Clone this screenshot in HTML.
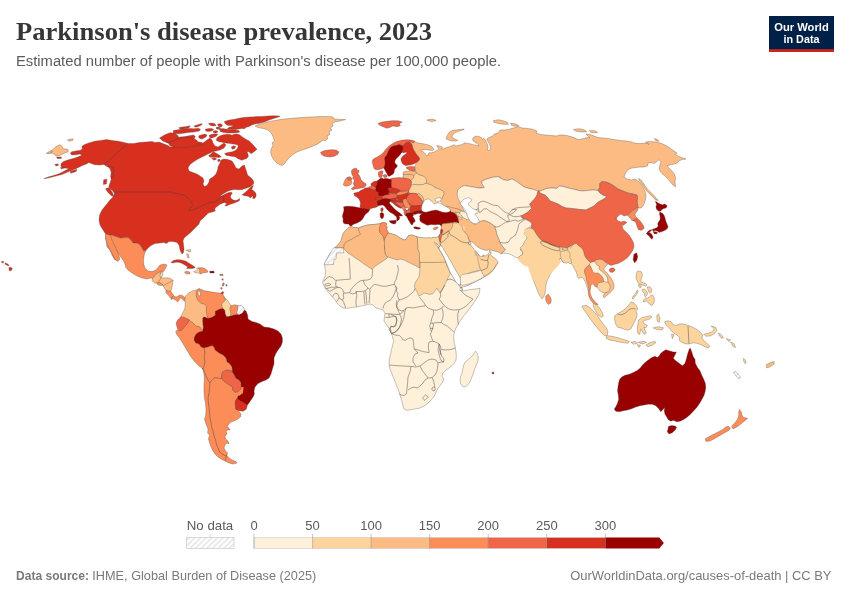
<!DOCTYPE html>
<html lang="en">
<head>
<meta charset="utf-8">
<title>Parkinson's disease prevalence, 2023</title>
<style>
html,body{margin:0;padding:0;background:#fff;}
body{width:850px;height:600px;overflow:hidden;font-family:"Liberation Sans",sans-serif;}
svg{display:block;}
.title{font-family:"Liberation Serif",serif;font-weight:700;font-size:25px;fill:#363636;}
.sub{font-family:"Liberation Sans",sans-serif;font-size:14px;fill:#5b5b5b;}
.lg{font-family:"Liberation Sans",sans-serif;font-size:13px;fill:#5b5b5b;}
.ft{font-family:"Liberation Sans",sans-serif;font-size:13px;fill:#7a7a7a;}
.ftb{font-weight:700;}
.b{fill:none;stroke-width:0.55;stroke-opacity:0.85;}
.nb{stroke:none;}
.logo{font-family:"Liberation Sans",sans-serif;font-weight:700;font-size:11.6px;fill:#fff;}
</style>
</head>
<body>
<svg width="850" height="600" viewBox="0 0 850 600">
<rect width="850" height="600" fill="#ffffff"/>
<defs>
<pattern id="hatch" patternUnits="userSpaceOnUse" width="4" height="4" patternTransform="rotate(45)">
<rect width="4" height="4" fill="#fff"/>
<line x1="2" y1="0" x2="2" y2="4" stroke="#d9d9d9" stroke-width="1.1"/>
</pattern>
</defs>
<g id="header">
<text x="16" y="39.5" class="title" textLength="416" lengthAdjust="spacingAndGlyphs">Parkinson's disease prevalence, 2023</text>
<text x="16" y="66.3" class="sub" textLength="485" lengthAdjust="spacingAndGlyphs">Estimated number of people with Parkinson's disease per 100,000 people.</text>
</g>
<g id="logo">
<rect x="769" y="16" width="65" height="36" fill="#002147"/>
<rect x="769" y="49.2" width="65" height="2.8" fill="#ce261e"/>
<text x="801.5" y="30.6" text-anchor="middle" class="logo" textLength="54.5" lengthAdjust="spacingAndGlyphs">Our World</text>
<text x="801.5" y="42.6" text-anchor="middle" class="logo" textLength="36" lengthAdjust="spacingAndGlyphs">in Data</text>
</g>
<g id="map">
<g stroke="#444" stroke-width="0.7" stroke-opacity="0.45" stroke-linejoin="round">
<path d="M47.9 153.3L52.9 153.3L55.9 155.9L60.1 155.3L64.1 153.3L68.3 151.8L67.9 149.3L63.2 148.7L62.2 146.8L60.1 144.6L55.8 146.7L51.8 150.4L47.8 153.0Z" fill="#fdbb84"/>
<path d="M67.4 139.8L68.9 141.3L73.2 140.2L72.6 138.7L67.4 139.8Z" fill="#fdbb84"/>
<path d="M56.6 156.9L57.2 158.5L61.3 158.5L61.3 156.9Z" fill="#d7301f"/>
<path d="M44.1 178.5L48.8 176.8L53.5 175.6L58.2 174.1L61.8 172.4L65.3 170.6L68.8 168.8L66.5 168.2L62.9 167.9L60.8 165.9L61.2 163.5L63.5 161.5L67.6 160.0L72.4 158.8L77.1 157.3L81.8 155.3L80.0 154.1L75.9 154.7L71.8 154.9L70.2 153.3L71.8 151.8L75.9 150.9L80.6 150.2L82.4 148.8L81.8 146.5L84.1 144.7L88.8 142.9L94.7 141.2L100.6 140.4L106.5 139.6L112.4 140.6L118.2 141.2L124.1 142.4L128.0 143.5L134.0 143.6L139.0 142.6L146.0 142.0L152.0 141.4L155.0 142.6L159.0 142.0L163.0 143.6L168.0 145.6L170.0 147.0L174.0 147.0L182.0 147.0L190.0 146.4L196.0 145.6L200.0 144.4L203.0 143.0L207.0 140.0L210.0 138.0L212.0 140.0L213.0 143.0L215.0 146.0L218.0 147.0L221.0 145.0L224.0 143.0L226.0 145.0L224.0 148.0L220.0 150.0L216.0 151.0L213.0 151.6L210.0 153.0L206.0 155.0L202.0 157.0L198.0 159.0L194.0 161.6L190.0 164.4L188.0 168.0L189.0 171.0L193.0 172.4L197.0 174.0L200.0 176.0L203.0 178.0L204.0 181.0L203.0 184.0L204.4 186.4L207.0 185.6L209.0 182.0L209.6 179.0L213.0 177.0L216.0 174.0L217.6 170.0L218.0 167.0L220.0 163.0L221.0 160.0L224.0 159.0L228.0 159.6L232.0 161.0L234.0 164.0L236.0 168.0L239.0 169.0L242.0 166.0L244.4 165.0L246.0 170.0L246.0 170.0L246.8 172.5L247.6 174.9L249.3 176.6L251.4 178.2L253.0 179.9L253.8 181.9L253.4 184.0L251.8 185.6L249.7 186.9L247.6 187.7L245.2 188.5L242.7 189.4L240.2 189.8L237.8 189.8L235.3 189.6L232.8 189.8L230.4 190.2L228.3 191.0L226.2 192.1L224.2 193.2L222.1 194.5L220.5 195.9L219.2 197.3L221.7 195.9L223.8 194.7L226.2 193.5L228.7 192.6L231.2 192.2L232.4 193.1L231.2 194.7L230.4 196.4L230.8 198.0L232.0 199.2L233.6 200.1L235.7 200.5L237.8 199.8L239.4 198.4L239.8 200.1L238.6 201.3L236.5 202.1L234.5 202.9L232.0 203.8L229.5 204.6L227.5 205.4L225.8 206.2L225.0 205.4L226.2 204.2L227.9 202.9L226.2 203.4L224.6 202.5L222.9 202.9L221.3 203.8L219.6 204.6L218.0 205.8L216.4 207.1L215.1 208.3L214.7 209.9L215.5 210.8L213.9 211.6L212.2 212.0L210.6 212.4L208.9 212.8L207.7 213.6L206.5 214.9L205.2 216.1L204.0 217.4L202.8 218.6L200.0 221.0L199.0 224.0L196.0 227.0L193.0 230.0L190.0 233.0L187.0 235.6L184.0 238.0L183.0 241.0L183.6 245.0L184.0 249.0L183.6 252.4L182.0 254.0L180.4 251.0L179.6 248.0L179.0 245.0L177.0 242.4L173.0 241.4L169.0 241.6L166.4 243.6L164.0 242.4L160.0 243.0L155.0 243.6L151.0 245.6L148.0 248.0L146.0 250.4L143.6 251.0L142.0 248.0L140.0 245.0L137.0 243.0L133.0 243.0L131.0 240.0L128.0 237.6L120.0 238.0L113.0 235.6L106.0 234.4L103.0 230.0L100.0 225.0L99.0 220.0L99.6 215.0L102.0 210.0L106.0 205.0L110.0 200.0L114.0 196.0L115.0 192.0L114.4 196.4L115.0 192.0L114.1 192.9L112.4 190.6L110.0 188.8L108.8 186.5L110.0 182.9L111.2 179.4L110.6 176.5L111.2 172.4L110.0 168.8L107.6 166.5L104.1 164.4L99.4 165.1L94.7 164.7L91.2 163.5L88.8 162.4L86.5 163.9L82.9 165.3L79.4 167.1L75.9 168.8L71.2 170.6L66.5 172.6L61.8 174.5L55.9 176.1L50.0 177.6L44.1 178.8Z" fill="#d7301f"/>
<path d="M105.5 188.8L107.8 192.2L110.8 195.2L113.9 196.9L114.1 196.8L112.7 192.9L109.1 187.6Z" fill="#d7301f"/>
<path d="M103.7 179.7L103.3 184.4L106.3 183.9L107.0 179.2Z" fill="#d7301f"/>
<path d="M242.1 194.8L244.3 195.7L245.9 195.8L247.6 196.2L249.1 196.6L250.0 198.0L251.6 197.0L252.3 195.9L253.1 196.5L252.6 198.2L254.3 198.8L255.8 196.9L256.2 194.7L255.7 192.9L254.4 191.6L253.2 190.4L251.7 189.3L252.4 187.8L253.5 185.7L253.3 185.6L251.2 186.6L249.5 188.3L247.8 190.0L246.2 191.6L244.2 193.2L242.1 194.8Z" fill="#d7301f"/>
<path d="M224.1 121.7L225.2 123.5L226.7 125.0L229.2 125.5L232.0 125.5L233.2 126.1L231.5 126.8L229.1 127.3L227.2 128.9L227.3 129.0L230.1 129.4L233.0 129.7L235.9 129.4L238.7 129.0L241.5 128.5L244.4 128.8L246.3 127.3L249.1 126.4L251.9 125.0L254.7 124.1L258.5 123.4L262.3 122.5L265.1 121.7L269.8 119.8L275.4 117.9L279.7 116.4L279.7 116.0L273.5 115.8L267.8 116.0L262.2 116.4L256.5 116.6L250.9 116.9L246.1 117.3L241.4 117.8L237.6 118.5L234.8 119.2L231.1 119.7L227.3 120.4Z" fill="#d7301f"/>
<path d="M219.4 129.2L220.4 131.5L222.6 132.2L225.4 132.8L229.2 133.0L233.0 133.0L236.8 132.8L239.5 132.2L238.9 130.6L235.8 130.1L232.1 130.1L228.3 129.6L225.5 129.1L222.6 128.4Z" fill="#d7301f"/>
<path d="M208.4 123.6L210.3 125.5L213.2 126.0L216.1 125.4L214.8 123.8L211.8 123.0L208.4 123.6Z" fill="#d7301f"/>
<path d="M217.5 124.0L218.7 126.4L221.4 126.9L222.6 125.1L220.4 123.7Z" fill="#d7301f"/>
<path d="M205.3 129.2L205.9 131.1L208.5 131.6L211.5 131.1L213.8 129.7L211.9 128.4L208.5 128.6Z" fill="#d7301f"/>
<path d="M213.3 131.1L213.7 132.8L216.1 133.0L218.0 131.8L216.1 130.5Z" fill="#d7301f"/>
<path d="M216.2 127.3L216.6 129.0L218.5 129.2L220.9 128.3L220.9 128.2L219.0 126.9Z" fill="#d7301f"/>
<path d="M178.7 128.0L181.2 129.4L185.0 128.8L187.0 128.5L189.0 127.8L190.2 125.8L190.2 125.7L187.3 126.3L185.0 126.8L182.1 126.9L178.8 127.8Z" fill="#d7301f"/>
<path d="M193.8 126.1L195.8 127.2L198.3 126.4L200.7 125.6L202.3 123.9L202.2 123.7L200.0 123.9L197.1 124.9L193.8 126.0Z" fill="#d7301f"/>
<path d="M173.4 130.6L173.4 133.5L179.4 133.8L185.0 133.0L187.9 132.5L190.7 132.3L193.5 132.1L196.3 131.6L199.3 131.1L200.5 129.3L198.2 128.2L196.3 128.5L193.5 128.8L190.7 128.5L187.8 128.6L185.0 129.1L179.3 129.6Z" fill="#d7301f"/>
<path d="M198.8 135.8L198.8 137.3L199.9 138.6L202.0 139.1L204.0 138.1L205.9 136.9L207.1 134.9L204.8 134.1L201.9 134.8Z" fill="#d7301f"/>
<path d="M209.1 135.3L209.7 137.4L211.3 138.2L213.8 137.2L216.2 136.3L218.0 134.2L218.0 134.2L215.1 133.8L212.2 134.3Z" fill="#d7301f"/>
<path d="M163.7 140.1L166.0 142.4L169.9 143.8L177.5 144.8L185.0 144.8L187.9 144.3L190.7 144.1L193.6 143.8L195.9 142.7L194.2 141.0L193.0 139.8L194.2 138.5L195.3 136.4L193.6 135.0L190.6 135.4L187.8 136.0L185.0 136.6L177.4 137.3L170.8 138.1Z" fill="#d7301f"/>
<path d="M196.8 142.9L198.0 145.0L200.6 145.2L202.8 144.4L202.2 142.6L199.6 142.0Z" fill="#d7301f"/>
<path d="M216.2 139.2L216.6 140.4L218.3 141.5L220.7 141.9L223.1 142.4L225.4 142.9L227.8 143.2L230.1 143.4L234.8 144.3L237.1 144.7L238.3 146.0L237.9 147.6L236.6 149.4L234.7 150.8L232.4 151.7L229.7 152.2L226.8 152.7L224.5 153.8L226.3 155.4L228.7 155.8L231.1 156.3L233.4 156.5L235.7 157.0L237.5 158.4L239.5 159.3L241.9 160.3L244.4 159.3L246.8 158.4L248.4 156.3L247.9 153.8L247.0 152.1L248.5 151.4L249.7 152.5L251.3 153.8L255.3 150.8L257.0 149.2L254.9 147.1L253.0 144.7L249.2 140.9L246.3 139.5L244.0 138.1L241.7 136.4L239.7 134.8L236.8 134.1L233.9 134.3L232.0 135.2L230.2 134.5L226.9 134.3L223.5 134.8L220.2 135.7L217.7 137.2Z" fill="#d7301f"/>
<path d="M231.2 147.2L232.4 149.3L234.6 148.5L235.8 146.5L233.4 145.7Z" fill="#d7301f"/>
<path d="M208.6 155.7L209.8 157.0L211.8 157.3L214.2 157.0L216.5 157.3L218.9 157.5L221.3 156.9L221.3 156.9L220.0 155.5L215.3 152.7L213.2 151.6L211.2 153.7Z" fill="#d7301f"/>
<path d="M211.7 158.6L214.2 160.2L216.7 158.9L214.7 157.6L211.7 158.4Z" fill="#d7301f"/>
<path d="M217.6 159.8L218.2 161.8L220.2 161.1L219.5 159.1Z" fill="#d7301f"/>
<path d="M128.0 143.5L104.1 164.4L106.5 166.5L110.0 166.2L112.9 167.6L113.5 171.2L112.4 173.5L114.1 175.3L112.9 177.6L111.2 177.1" class="b"/>
<path d="M115.0 192.0L171.0 192.0L174.0 193.0L179.0 194.0L184.0 195.0L188.0 198.0L191.6 202.0L192.4 205.6L190.0 209.0L188.0 211.0" class="b"/>
<path d="M189.2 210.5L192.5 209.9L194.9 209.1L197.4 207.9L199.9 206.6L202.4 205.8L204.8 204.6L207.3 202.9L209.8 202.5L212.2 202.3L214.7 202.1L216.8 201.3L218.0 199.6L219.2 198.0L220.9 196.8L222.5 196.2L223.8 197.2L223.9 198.8L223.4 200.5L223.8 202.1L222.9 202.9" class="b"/>
<path d="M255.0 126.0L260.0 124.0L266.0 122.4L272.0 121.0L280.0 119.6L290.0 118.4L300.0 117.6L310.0 117.0L320.0 116.6L328.0 116.4L333.0 117.0L334.0 119.0L340.0 119.4L345.6 119.6L340.0 121.0L335.0 122.0L332.0 123.6L333.0 126.0L330.4 128.0L332.0 130.0L329.0 132.0L330.0 134.4L327.0 136.0L327.6 139.0L325.0 141.0L323.0 140.0L320.0 142.4L317.0 144.4L312.0 146.4L307.0 148.4L302.0 150.0L297.0 152.0L293.0 154.4L289.0 158.0L286.4 161.0L284.4 164.0L282.0 165.6L279.0 164.4L276.0 162.4L273.6 159.6L271.6 156.0L270.6 152.4L271.0 149.0L273.0 145.6L272.0 143.0L274.4 141.0L273.6 138.0L272.0 134.4L270.0 131.6L267.0 129.6L263.0 128.4L258.0 127.6Z" fill="#fdbb84"/>
<path d="M320.6 152.2L321.3 154.2L323.5 155.9L327.0 156.7L331.0 156.9L335.1 155.9L337.8 154.2L339.0 151.9L336.1 150.1L332.0 149.7L328.0 150.1L323.9 150.7Z" fill="#ef6548"/>
<path d="M377.8 123.5L379.8 125.3L382.9 126.7L387.0 128.3L390.1 127.3L393.0 125.9L397.0 126.7L400.4 125.8L399.4 123.7L402.2 122.0L402.2 121.9L398.0 120.7L392.0 120.7L387.0 121.3L381.9 122.1L377.8 123.5Z" fill="#ef6548"/>
<path d="M106.0 234.4L113.0 235.6L120.0 238.0L128.0 237.6L131.0 240.0L133.0 243.0L137.0 243.0L140.0 245.0L142.0 248.0L143.6 251.0L146.0 250.4L144.4 254.0L143.6 259.0L143.6 264.0L145.0 268.0L148.0 271.0L152.0 271.6L156.0 270.0L158.4 267.0L160.0 265.0L164.0 264.0L167.0 265.0L165.6 268.0L164.0 271.0L162.0 272.0L159.0 272.0L157.0 274.0L156.0 276.4L154.0 279.0L151.0 278.0L147.0 279.0L142.0 278.0L137.0 276.0L132.0 273.0L128.0 270.0L125.6 267.0L125.0 264.0L123.0 260.0L120.0 256.0L117.0 251.0L114.0 246.0L112.0 242.0L110.0 239.0L109.6 242.0L112.0 247.0L114.0 252.0L115.6 257.0L116.4 260.0L114.4 259.6L112.0 255.0L110.0 250.0L107.0 247.0L106.4 242.0L105.6 238.0Z" fill="#fc8d59"/>
<path d="M155.7 274.5L154.5 276.3L152.7 278.1L152.0 280.4L153.3 282.0L155.2 283.2L157.8 283.2L159.1 282.0L161.5 278.3L160.9 277.0L160.5 275.3L161.6 272.6L159.4 272.6L157.5 273.3Z" fill="#fdbb84"/>
<path d="M160.9 272.8L159.9 275.3L160.4 277.5L162.0 276.7L162.9 274.2L162.6 271.2L162.5 271.2Z" fill="#fdd49e"/>
<path d="M161.0 277.9L159.7 279.8L158.4 282.5L160.4 283.8L162.2 284.9L163.5 286.2L164.9 285.6L166.6 284.4L169.0 283.2L171.3 282.0L173.2 280.6L170.7 278.5L167.1 277.7L163.5 277.9Z" fill="#fdbb84"/>
<path d="M157.3 282.8L157.3 284.3L159.3 285.3L161.2 285.6L162.9 284.7L160.8 283.3L158.8 282.0Z" fill="#fc8d59"/>
<path d="M172.9 280.0L171.0 281.5L168.7 282.7L166.3 283.9L164.6 285.0L163.1 285.7L163.9 287.2L165.0 289.0L166.3 290.8L168.2 291.7L170.6 291.5L171.5 289.5L172.1 286.5L172.6 283.6L173.1 280.1Z" fill="#fdbb84"/>
<path d="M166.2 290.2L165.8 292.7L167.4 294.3L169.2 296.1L170.1 297.8L171.9 299.3L172.6 297.3L173.9 296.6L173.2 294.6L171.8 292.8L170.5 290.9L168.3 291.1Z" fill="#fc8d59"/>
<path d="M173.5 296.1L172.1 296.8L171.3 299.2L171.4 299.3L172.9 298.8L174.6 299.4L176.0 300.2L177.4 302.0L178.8 300.8L179.7 299.0L180.7 298.0L182.1 298.5L183.1 300.2L184.7 301.0L185.3 298.8L184.4 296.9L182.5 295.6L180.6 295.0L178.7 295.6L177.0 296.8L175.3 296.8Z" fill="#fc8d59"/>
<path d="M171.0 262.5L172.9 263.0L175.3 262.3L178.2 262.3L181.1 263.0L184.0 264.4L186.3 266.1L187.8 267.1L186.5 268.4L186.5 268.5L192.4 268.5L195.2 267.8L194.3 266.5L191.9 265.0L189.0 263.3L186.6 261.5L183.6 260.5L180.0 259.7L176.4 259.7L173.4 260.6L170.9 262.4Z" fill="#d7301f"/>
<path d="M184.5 271.9L185.5 273.6L187.6 274.1L190.0 273.8L189.7 272.1L187.1 271.2Z" fill="#fc8d59"/>
<path d="M193.5 271.4L195.2 272.9L197.6 272.9L200.6 273.7L200.3 271.2L200.3 268.6L198.9 267.9L196.6 268.4L197.3 269.9L196.3 270.9L193.6 271.3Z" fill="#fdd49e"/>
<path d="M198.2 268.3L199.7 269.0L199.7 271.2L200.0 273.5L201.2 273.9L203.0 272.7L205.3 272.7L208.1 272.0L207.3 270.4L204.8 268.6L201.8 267.6L198.3 268.0Z" fill="#fc8d59"/>
<path d="M209.6 271.2L210.1 273.1L214.3 272.9L213.8 271.1Z" fill="#990000"/>
<path d="M220.9 292.8L220.6 294.4L222.5 294.4L223.9 292.6L223.0 291.4Z" fill="#d7301f"/>
<path d="M186.7 253.7L187.4 257.5L189.2 258.1L188.5 254.2Z" fill="#fdbb84"/>
<path d="M186.2 250.2L189.4 252.1L190.9 251.6L190.6 249.7L186.3 250.0Z" fill="#fdbb84"/>
<path d="M70.2 171.6L70.7 173.3L73.0 172.6L76.1 171.4L77.0 169.7L76.9 169.6L73.4 170.3Z" fill="#d7301f"/>
<path d="M54.8 164.5L56.0 166.1L58.7 165.2L57.8 163.8Z" fill="#d7301f"/>
<path d="M60.3 167.8L61.5 168.9L64.0 168.0L63.0 166.7Z" fill="#d7301f"/>
<path d="M46.6 153.7L49.5 153.2L52.5 151.8L51.9 150.6L49.3 151.5L46.4 153.3Z" fill="#fdbb84"/>
<path d="M190.0 322.0L206.0 320.0L230.0 330.0L240.0 374.0L239.0 398.0L236.0 410.0L210.0 410.0L206.0 390.0L204.0 370.0L190.0 350.0Z" fill="#fc8d59" class="nb"/>
<path d="M215.0 311.0L219.0 309.0L223.0 308.0L225.0 310.0L225.6 314.0L227.0 316.4L231.0 315.6L235.0 314.4L239.0 314.4L242.0 313.0L244.0 310.0L246.0 311.0L247.6 315.0L248.0 319.0L252.0 321.6L256.0 322.4L260.0 324.0L264.0 327.0L269.0 327.6L274.0 329.0L278.0 331.0L281.0 334.0L282.4 338.0L282.4 342.0L281.0 346.0L278.0 350.0L275.6 354.0L274.0 358.0L274.0 360.0L274.0 364.0L272.4 369.0L271.0 374.0L269.0 378.0L266.0 380.0L262.0 381.6L258.0 383.6L255.0 387.0L254.0 391.0L254.4 394.0L253.0 397.0L251.0 400.0L249.0 403.0L247.0 405.6L245.6 404.4L243.0 402.4L240.0 401.0L237.0 399.0L238.0 396.0L240.4 393.0L242.4 390.0L241.0 387.0L241.0 383.0L239.0 380.0L236.0 379.0L235.0 376.0L232.4 373.0L232.0 369.0L231.0 366.0L229.0 363.0L227.0 362.0L226.0 358.0L223.0 355.0L219.0 353.0L215.0 350.0L214.0 347.0L212.0 345.6L208.0 347.0L204.0 348.0L201.0 347.0L199.0 344.0L195.6 343.0L194.0 340.0L194.4 337.0L196.0 334.0L199.0 332.0L202.4 331.0L203.0 327.0L202.4 322.0L202.4 318.0L204.0 316.4L208.0 318.0L212.0 317.0L215.0 315.0Z" fill="#990000"/>
<path d="M199.6 288.8L199.4 288.5L196.9 289.7L192.9 290.7L188.8 292.8L185.7 295.8L184.7 300.0L185.3 304.0L184.7 308.9L180.6 317.2L184.9 318.3L188.8 320.3L192.8 323.2L195.8 326.3L199.8 327.3L202.4 331.6L202.6 331.6L203.3 327.0L202.7 322.0L202.7 318.1L204.1 316.8L208.4 318.5L208.4 318.4L207.3 313.9L206.7 310.0L207.3 306.9L205.2 303.7L201.2 302.7L198.3 299.8L196.7 295.9L196.7 292.1Z" fill="#fdbb84"/>
<path d="M198.9 288.7L196.1 291.9L196.1 296.1L197.7 300.2L200.8 303.3L204.8 304.3L206.7 307.1L206.1 310.0L206.7 314.1L207.8 318.4L212.1 317.3L215.3 315.2L215.3 311.2L219.1 309.3L222.9 308.3L224.2 309.6L224.6 309.3L222.7 306.9L222.3 304.1L226.4 300.0L224.7 297.8L223.2 294.8L221.1 293.3L217.0 292.7L212.0 292.1L208.1 291.3L204.1 290.7L202.1 289.7Z" fill="#fc8d59"/>
<path d="M198.0 291.6L199.6 291.0L200.4 293.6L199.6 296.0L198.4 295.6Z" fill="#ffffff"/>
<path d="M223.8 297.7L225.6 300.0L221.7 303.9L222.1 307.1L222.8 308.2L224.7 310.1L225.3 314.1L226.8 316.7L231.3 315.8L231.3 312.0L230.3 309.0L231.3 306.0L227.2 299.8L224.1 297.4Z" fill="#fdd49e"/>
<path d="M230.8 305.7L229.7 309.0L230.7 312.0L230.7 316.0L235.1 314.7L237.3 313.2L238.3 310.0L238.3 305.8L235.0 304.7Z" fill="#fc8d59"/>
<path d="M237.7 305.7L237.7 310.0L236.6 313.1L239.0 314.7L242.2 313.2L244.3 310.1L243.9 307.8L241.1 305.3Z" fill="url(#hatch)"/>
<path d="M180.9 316.7L177.8 319.8L176.1 323.0L176.7 326.1L177.7 329.2L180.0 331.4L183.2 329.2L185.2 326.2L188.3 323.2L189.4 319.8L185.1 317.7Z" fill="#ef6548"/>
<path d="M180.0 331.0L183.0 329.0L185.0 326.0L188.0 323.0L189.0 320.0L193.0 323.0L196.0 326.0L200.0 327.0L202.4 331.0L199.0 332.0L196.0 334.0L194.4 337.0L194.0 340.0L195.6 343.0L199.0 344.0L201.0 347.0L204.0 348.0L205.0 352.0L204.4 357.0L205.0 362.0L204.0 367.0L203.0 369.0L199.0 366.0L195.0 362.0L191.0 357.0L188.0 352.0L185.0 347.0L182.0 342.0L179.6 338.0L177.0 335.0L175.6 332.0L177.0 330.0Z" fill="#fc8d59"/>
<path d="M204.0 348.0L208.0 347.0L212.0 345.6L214.0 347.0L215.0 350.0L219.0 353.0L223.0 355.0L226.0 358.0L227.0 362.0L230.0 364.0L232.0 367.0L232.4 371.0L229.0 370.0L225.0 371.0L222.0 374.0L221.0 379.0L218.0 378.0L214.0 378.0L212.0 380.0L210.0 383.0L208.0 380.0L206.0 376.0L204.4 372.0L203.0 369.0L204.0 367.0L205.0 362.0L204.4 357.0L205.0 352.0Z" fill="#fc8d59"/>
<path d="M202.4 368.0L204.0 374.0L204.4 380.0L204.0 386.0L204.0 392.0L204.4 398.0L205.6 404.0L206.0 410.0L205.6 416.0L204.4 419.0L206.0 424.0L208.0 429.0L207.6 433.0L209.6 435.0L208.4 439.0L209.6 443.0L211.0 447.0L213.0 451.0L215.0 454.0L218.0 457.0L221.0 459.0L225.0 461.0L229.0 463.0L233.0 464.0L237.0 463.0L236.0 461.6L232.0 460.0L229.0 458.0L227.0 455.6L227.6 453.0L225.6 451.0L224.0 448.0L225.0 445.0L227.0 443.0L229.0 444.0L228.0 441.0L225.6 439.0L225.0 436.0L227.0 434.0L226.0 431.0L227.6 430.0L230.0 430.0L229.0 428.0L227.0 427.0L229.0 424.0L231.0 422.0L234.0 421.0L238.0 419.0L240.4 417.0L241.0 414.0L239.0 411.6L236.0 409.0L235.6 405.0L235.6 401.0L237.0 399.0L238.0 396.0L240.4 393.0L238.0 391.6L235.0 392.0L233.0 390.0L233.0 387.0L230.0 385.0L227.0 383.0L224.0 381.0L222.0 378.0L221.0 379.0L218.0 378.0L214.0 378.0L212.0 380.0L210.0 383.0L208.0 380.0L206.0 376.0L204.4 372.0L203.0 369.0Z" fill="#fc8d59"/>
<path d="M210.0 383.0L209.6 388.0L209.0 393.0L208.0 398.0L208.4 403.0L209.0 408.0L209.6 413.0L210.0 418.0L211.0 422.0L211.6 427.0L213.0 431.0L214.0 436.0L215.6 440.0L216.4 444.0L218.0 448.0L219.6 452.0L222.0 454.0L225.0 455.6L227.0 455.6" class="b"/>
<path d="M226.0 456.0L225.6 460.6" class="b"/>
<path d="M236.0 388.0L243.6 387.0L243.0 393.0L239.0 396.0L236.4 393.0Z" fill="#fc8d59" class="nb"/>
<path d="M221.7 373.9L221.7 378.1L223.8 381.2L232.7 387.2L232.7 390.1L234.9 392.3L238.1 391.9L240.7 389.1L241.3 386.0L240.3 381.9L238.2 379.4L235.8 378.2L234.3 374.9L232.2 371.7L229.1 370.7L226.0 370.1L222.8 371.8Z" fill="#ef6548"/>
<path d="M236.9 398.6L235.3 400.9L235.3 405.0L235.7 409.2L238.9 410.7L243.1 411.3L246.3 409.2L247.3 405.5L245.8 404.2L243.2 402.1L240.1 400.7Z" fill="#d7301f"/>
<path d="M414.4 141.4L416.1 142.4L418.5 143.1L421.8 143.6L425.1 144.2L428.4 145.0L430.9 146.1L432.9 147.8L433.8 149.8L432.5 150.6L430.1 150.2L427.6 149.8L425.1 149.7L422.6 150.0L421.0 149.7L420.6 150.6L422.6 151.5L424.3 152.7L425.5 154.4L426.8 155.6L428.4 155.2L428.0 153.8L429.2 152.7L431.3 152.7L433.4 152.3L435.0 151.5L437.6 150.2L438.8 148.8L437.6 147.1L436.7 145.5L438.8 145.9L441.2 146.5L442.6 147.6L441.2 149.1L443.5 148.8L446.5 147.6L449.4 146.7L452.4 145.5L454.4 144.7L455.9 145.9L458.8 145.3L461.2 144.7L463.5 143.9L464.1 142.9L467.1 143.2L470.6 143.9L473.5 144.7L476.5 145.3L478.8 145.9L478.2 144.1L475.9 142.9L473.5 141.2L472.4 139.4L473.5 137.3L475.9 136.1L478.8 136.5L481.2 137.6L482.4 139.4L483.8 138.2L485.3 140.0L486.5 142.4L487.6 144.7L488.0 147.6L487.3 150.0L488.8 150.6L490.4 148.8L490.6 146.5L489.4 144.1L488.2 141.8L486.8 140.0L487.6 138.2L490.0 137.1L492.9 135.9L494.1 134.1L498.0 133.0L500.0 130.0L505.0 130.0L510.0 129.0L515.0 127.6L518.0 126.4L522.0 128.0L527.0 128.4L532.0 129.0L537.0 131.0L536.0 133.0L540.0 134.4L546.0 135.0L552.0 135.6L557.0 136.0L559.0 135.0L564.0 135.0L569.0 136.0L574.0 137.6L578.0 139.6L582.0 139.0L587.0 137.6L590.0 138.0L588.0 136.0L586.0 134.0L590.0 134.4L594.0 136.0L598.0 137.6L603.0 138.0L608.0 138.4L614.0 139.6L620.0 140.4L626.0 141.0L632.0 142.0L634.0 143.0L640.0 143.6L646.0 143.0L649.0 144.4L645.6 142.0L650.0 141.6L656.0 142.0L662.0 143.6L666.0 145.6L670.0 148.0L674.0 151.0L677.0 153.0L675.6 155.0L679.0 156.4L683.0 158.0L686.0 159.0L682.0 159.6L679.0 161.0L677.0 163.0L674.0 164.0L670.0 165.0L667.0 165.6L669.0 168.0L672.0 171.0L674.4 174.0L675.6 178.0L675.0 182.0L675.6 187.0L673.0 185.0L670.4 182.0L668.0 179.0L665.0 176.0L662.0 173.6L660.0 171.0L659.0 168.0L660.0 165.0L661.0 162.0L659.0 159.6L657.0 161.6L654.0 163.6L651.0 162.4L648.0 163.0L647.6 166.0L644.0 167.0L640.0 167.0L636.0 167.6L632.0 168.0L628.0 169.6L625.6 173.0L624.0 177.0L627.0 179.0L631.0 180.0L635.0 179.0L638.0 181.0L641.0 184.0L643.0 187.0L645.0 191.0L646.0 195.0L645.6 199.0L644.4 203.0L643.0 206.0L641.0 208.0L638.0 208.0L637.6 205.0L637.0 201.0L637.6 198.0L637.0 195.0L633.0 194.0L628.0 193.0L623.0 191.0L618.0 189.0L614.0 186.0L610.0 183.6L606.0 182.0L602.0 181.6L599.6 183.6L600.0 187.0L598.0 190.4L593.0 190.0L588.0 190.4L583.0 191.0L578.0 190.4L573.0 189.0L568.0 188.0L563.0 186.4L559.0 186.0L557.0 188.4L552.0 188.0L547.0 188.4L543.0 190.0L539.0 191.6L534.0 189.6L529.0 188.4L524.0 187.0L520.0 184.0L516.0 181.0L512.0 179.0L508.0 180.4L504.0 180.0L500.0 178.0L500.0 177.1L496.5 176.8L492.9 177.3L489.4 178.2L485.9 179.4L482.9 180.6L481.2 181.8L482.4 183.5L484.1 185.3L484.7 187.1L482.4 187.4L478.8 187.6L475.3 187.4L471.8 187.1L468.2 186.2L465.3 185.9L462.4 186.5L460.0 188.2L457.9 190.0L457.4 192.4L458.8 194.7L461.2 197.1L463.5 200.0L461.8 199.4L461.2 201.8L460.4 203.5L461.8 205.9L462.9 208.2L464.1 210.6L464.7 211.8L462.9 211.2L460.6 210.0L458.2 209.1L455.9 208.6L453.5 208.2L451.2 207.6L449.4 207.6L447.6 206.5L445.3 205.1L442.9 203.5L441.2 202.7L440.4 201.2L441.5 200.0L442.4 198.2L441.8 198.2L442.9 195.9L443.8 193.5L442.9 191.2L440.6 190.0L437.6 188.8L434.7 187.6L432.4 185.9L430.0 184.7L427.6 184.1L425.3 183.5L425.9 182.4L426.5 180.6L425.3 178.2L423.5 176.5L420.6 175.3L417.6 174.7L416.5 173.5L415.3 171.2L415.1 168.8L414.7 166.7L415.3 165.3L415.9 164.1L417.4 162.4L417.6 160.6L417.7 158.9L416.1 155.6L413.6 151.5L411.9 147.4L410.7 143.6L412.8 142.0Z" fill="#fdbb84"/>
<path d="M446.1 139.0L449.3 140.3L452.3 140.9L455.3 141.1L457.6 140.5L457.7 140.3L454.8 138.9L452.6 137.8L452.1 136.2L453.2 134.3L455.4 132.6L458.9 131.2L464.2 129.5L464.1 129.1L457.6 129.7L452.9 130.3L449.8 131.5L448.0 134.0L446.8 136.4Z" fill="#fdbb84"/>
<path d="M493.2 120.8L493.8 122.3L497.9 123.3L503.0 124.3L508.5 124.3L508.5 124.3L507.2 122.2L503.1 120.7L498.0 119.7Z" fill="#fdbb84"/>
<path d="M510.5 123.3L511.4 125.2L515.0 126.3L518.6 125.8L518.6 125.6L515.1 123.7Z" fill="#fdbb84"/>
<path d="M573.4 129.5L575.9 131.3L581.0 131.9L586.5 131.9L586.6 131.7L584.1 129.7L579.0 128.7L573.4 129.4Z" fill="#fdbb84"/>
<path d="M589.4 130.9L591.9 132.7L597.5 132.7L597.6 132.5L595.1 130.7L589.5 130.7Z" fill="#fdbb84"/>
<path d="M654.4 138.7L655.8 140.7L658.9 141.4L659.0 141.2L657.2 139.3L654.6 138.6Z" fill="#fdbb84"/>
<path d="M638.5 178.6L639.7 181.2L641.8 183.8L644.2 187.2L646.8 191.2L652.8 197.2L655.5 199.9L658.1 200.4L658.2 200.1L656.6 198.8L654.2 195.8L648.2 189.8L645.8 186.8L643.2 182.8L641.2 180.2L638.7 178.4Z" fill="#fdbb84"/>
<path d="M403.2 177.2L403.2 179.4L407.0 180.2L407.4 179.0L405.4 178.0Z" fill="#fdbb84"/>
<path d="M370.6 187.3L377.1 181.8L382.9 180.0L391.2 180.0L411.2 180.0L412.4 187.1L414.7 193.5L420.6 196.5L412.4 198.2L391.2 197.6L385.3 198.8L380.6 200.2L377.1 201.8L375.3 197.6L375.3 194.1L374.1 190.6L371.2 189.4Z" fill="#ef6548" class="nb"/>
<path d="M391.0 196.6L423.5 195.0L422.7 202.4L421.9 206.9L421.5 210.2L419.4 211.1L414.9 211.9L408.7 213.3L406.2 214.4L405.0 214.8L404.4 213.1L404.2 210.2L402.9 209.0L401.7 207.8L398.4 206.9L394.7 204.2L391.6 202.0L391.0 199.9Z" fill="#ef6548" class="nb"/>
<path d="M389.7 149.0L393.0 146.5L399.6 145.0L403.7 146.1L403.7 151.5L401.2 152.7L397.9 156.6L389.7 159.7L385.6 159.7Z" fill="#990000" class="nb"/>
<path d="M372.5 160.0L372.3 162.2L372.8 164.3L373.4 166.8L374.2 168.8L376.0 169.7L378.2 169.7L380.3 169.2L382.4 168.6L384.1 167.8L385.0 166.4L385.5 164.7L385.7 162.6L385.2 158.5L385.8 156.8L387.1 155.8L387.9 154.1L388.7 152.0L389.6 150.4L390.4 148.8L391.5 147.6L392.7 147.0L393.9 146.4L395.5 146.4L397.2 145.8L398.8 145.2L400.4 145.3L402.0 145.8L403.4 146.0L404.7 144.7L406.4 143.5L407.9 142.3L409.9 141.9L411.9 142.3L413.7 142.9L414.9 141.3L412.4 140.3L409.5 139.8L406.2 139.8L402.8 140.1L400.3 140.6L397.9 141.3L395.4 142.1L392.8 143.4L390.4 145.1L388.3 146.7L386.6 148.4L384.9 150.5L383.3 152.5L381.3 154.4L378.8 156.0L376.4 157.4L373.9 158.6Z" fill="#ef6548"/>
<path d="M391.2 147.1L389.9 148.4L389.0 150.1L388.2 151.8L387.4 153.8L386.6 155.4L385.3 156.4L384.6 158.4L385.1 162.6L384.9 164.6L384.5 166.2L383.8 168.0L384.5 169.3L385.3 170.7L386.1 172.2L387.0 173.8L387.8 175.4L388.8 176.4L390.2 175.8L391.7 174.9L393.2 173.9L394.1 172.6L394.3 170.9L394.7 169.3L395.9 168.1L397.0 166.8L397.3 165.2L395.8 164.0L394.9 162.9L394.8 161.4L395.3 159.9L396.3 158.7L397.7 157.3L399.0 156.0L400.3 154.5L401.1 152.9L402.3 151.7L403.2 150.8L403.6 149.0L403.3 147.2L402.3 145.9L400.5 145.0L398.7 144.6L397.0 145.3L395.4 145.8L393.8 145.8L392.5 146.4Z" fill="#990000"/>
<path d="M403.0 145.6L402.7 147.4L403.0 149.0L402.6 150.5L401.6 151.5L403.2 153.1L404.6 152.4L406.1 152.2L407.0 152.5L406.7 153.1L405.6 154.1L403.9 155.2L402.5 156.4L401.4 157.9L400.9 159.7L401.4 161.5L402.2 163.2L403.5 164.5L405.3 165.6L407.0 165.4L409.1 165.1L411.2 164.8L413.3 164.1L415.4 163.3L417.1 162.0L418.8 160.7L419.7 158.9L418.8 157.1L417.5 155.4L415.9 153.4L413.4 149.3L412.6 147.3L412.2 145.2L411.4 143.5L410.0 142.3L407.8 141.9L406.0 143.0L404.3 144.2Z" fill="#d7301f"/>
<path d="M406.2 167.3L406.6 168.6L407.7 169.2L409.3 170.3L411.4 171.1L413.7 171.6L415.2 170.5L414.6 168.7L414.7 166.9L412.8 166.4L410.3 166.4L408.2 166.7Z" fill="#ef6548"/>
<path d="M378.3 172.3L378.3 175.0L378.9 176.8L380.2 177.7L381.7 177.3L382.6 175.8L382.2 174.4L382.8 173.0L383.0 171.0L381.4 170.8L379.7 171.4Z" fill="#ef6548"/>
<path d="M383.1 175.1L383.9 177.2L385.6 177.7L387.2 176.7L386.8 175.1L385.2 174.6Z" fill="#ef6548"/>
<path d="M352.8 169.2L351.5 170.5L351.5 172.4L352.1 174.8L353.2 176.5L352.6 178.3L353.9 179.6L354.4 181.1L353.2 182.9L353.9 184.9L354.8 185.9L353.3 187.1L351.2 188.9L352.9 189.7L354.8 189.1L357.1 188.8L359.5 188.3L361.8 187.9L364.3 187.3L365.8 186.0L366.2 184.0L362.6 181.5L361.1 179.8L360.3 177.5L359.1 175.1L357.7 174.1L358.5 172.8L359.2 170.6L357.3 170.3L356.7 168.6L354.7 168.2Z" fill="#ef6548"/>
<path d="M343.2 184.8L345.2 186.2L347.7 185.9L350.2 185.2L351.5 183.7L351.7 181.1L350.8 179.7L349.0 179.5L347.8 177.3L346.3 178.0L345.0 179.9L344.1 182.2Z" fill="#fc8d59"/>
<path d="M347.2 177.5L348.6 180.0L350.7 180.3L352.2 178.9L351.1 177.4L349.4 176.7Z" fill="#ef6548"/>
<path d="M403.2 172.1L403.2 175.0L411.1 175.0L413.5 176.0L416.1 175.6L416.8 173.5L415.5 171.1L413.0 171.5L410.6 170.6L408.2 171.5L405.8 171.1Z" fill="#fdbb84"/>
<path d="M403.3 174.7L403.0 177.9L405.2 178.5L406.9 179.4L408.7 180.3L411.2 180.7L413.2 179.4L414.4 177.3L413.8 175.4L411.2 174.4L405.9 174.4Z" fill="#fdbb84"/>
<path d="M413.8 175.5L413.8 177.2L412.7 179.0L410.9 180.2L410.9 182.7L410.2 184.9L412.4 185.4L414.7 184.7L417.6 185.0L420.6 185.0L423.6 184.6L425.5 183.8L426.2 182.5L426.8 180.8L425.6 178.1L424.3 176.6L422.4 175.8L419.5 175.0L416.4 173.2Z" fill="#fdd49e"/>
<path d="M410.4 184.7L409.7 186.3L408.9 188.1L408.1 190.6L409.2 192.6L411.0 193.8L412.9 194.4L415.3 194.8L417.5 195.0L419.2 197.2L420.4 199.0L421.6 200.3L423.2 200.3L423.7 198.6L424.8 199.1L426.0 199.7L424.9 201.2L427.0 202.7L429.6 202.0L431.0 200.6L432.9 199.7L435.3 200.7L437.2 199.5L439.5 198.8L442.0 198.5L443.2 196.0L444.1 193.5L443.2 191.0L440.7 189.7L437.8 188.5L434.9 187.4L432.5 185.6L430.1 184.4L427.7 183.8L425.2 183.2L423.4 184.4L420.6 184.8L417.7 184.8L414.7 184.4L412.3 185.0Z" fill="#fdd49e"/>
<path d="M390.6 178.6L390.6 184.7L390.9 187.5L392.2 188.3L394.6 188.8L396.9 189.7L399.3 190.6L402.3 191.1L405.3 191.8L408.4 191.5L409.7 189.0L410.9 186.6L411.5 183.6L411.5 181.7L409.6 179.1L405.3 178.3L399.4 177.6L393.5 177.9Z" fill="#ef6548"/>
<path d="M376.8 181.3L376.5 184.4L375.6 186.0L375.4 188.2L375.0 190.1L376.3 192.0L378.0 192.9L378.6 196.6L381.1 196.2L383.0 196.8L384.8 195.8L387.1 195.4L389.2 194.9L388.9 193.0L390.4 191.1L388.5 189.8L388.0 188.6L389.5 187.9L391.5 187.5L391.2 184.7L391.2 182.4L391.5 179.8L389.5 179.1L387.1 178.5L384.7 178.5L383.1 179.0L382.5 177.9L380.5 178.3Z" fill="#990000"/>
<path d="M371.5 183.3L370.8 185.0L372.4 186.4L374.5 187.2L376.1 186.3L377.1 184.6L377.4 181.1L375.8 181.1L373.4 181.8Z" fill="#d7301f"/>
<path d="M368.4 187.2L369.2 188.7L371.3 189.7L373.5 190.7L375.5 190.3L376.0 188.2L374.7 186.6L372.6 185.8L370.5 186.2Z" fill="#ef6548"/>
<path d="M353.7 193.3L354.5 195.5L356.3 196.7L358.0 197.9L359.2 199.6L360.1 201.3L360.5 203.5L360.0 205.9L360.6 208.5L362.9 209.1L366.4 209.7L369.2 210.3L370.8 208.5L373.0 207.9L375.4 207.6L377.2 206.7L379.2 205.4L378.5 203.4L377.9 201.6L376.7 199.9L376.0 198.2L376.7 196.6L377.9 194.8L378.6 192.6L376.7 191.5L375.4 189.7L373.6 190.0L371.5 189.1L369.5 188.2L367.7 187.7L365.2 187.9L363.4 189.2L361.6 190.1L359.8 190.9L358.7 192.1L356.4 192.4Z" fill="#d7301f"/>
<path d="M387.7 190.0L389.6 191.2L388.0 193.2L388.2 193.4L390.6 192.7L392.3 193.2L394.7 193.5L397.2 193.2L399.1 192.0L399.8 190.2L397.2 189.1L394.8 188.2L392.3 187.7L389.9 188.6Z" fill="#d7301f"/>
<path d="M396.1 194.0L397.5 196.2L400.7 195.6L403.0 195.0L405.4 194.4L407.9 193.4L408.6 190.8L404.7 191.2L401.7 191.2L398.7 192.1Z" fill="#fc8d59"/>
<path d="M407.4 196.3L406.8 197.5L406.2 199.4L406.8 201.9L408.7 203.2L410.4 204.4L412.2 205.6L414.7 205.9L417.7 205.6L420.7 205.6L422.0 203.7L423.3 201.8L422.0 199.8L420.2 197.5L418.4 194.8L416.0 193.6L412.9 193.2L409.9 193.6L408.6 194.5Z" fill="#ef6548"/>
<path d="M417.7 194.9L419.8 197.8L420.9 199.6L422.2 201.5L423.9 201.2L423.2 198.7L422.0 196.3L420.1 194.4Z" fill="#fdbb84"/>
<path d="M343.5 207.1L344.0 209.4L343.6 211.7L342.9 214.0L342.4 216.5L343.2 218.9L342.9 221.2L343.9 223.6L346.4 224.1L348.7 224.1L349.6 225.5L351.2 226.2L352.5 224.9L354.2 224.0L356.6 223.2L359.0 222.0L361.0 220.8L362.6 219.0L363.8 216.9L364.9 214.9L366.7 213.2L368.5 212.0L369.5 209.8L366.5 209.1L363.0 208.5L359.5 207.7L355.9 207.0L352.4 206.5L348.8 206.2L345.8 206.2Z" fill="#990000"/>
<path d="M347.6 208.2L348.6 210.6L347.9 212.9L347.6 215.3L348.2 217.6L347.6 220.0L347.9 222.4L348.8 223.8" class="b"/>
<path d="M377.5 201.0L377.3 202.8L377.8 204.6L379.0 205.6L380.8 205.3L382.3 205.0L383.8 205.6L385.0 206.7L386.2 208.4L387.5 210.0L388.9 211.3L390.4 212.4L393.7 214.3L394.9 215.4L396.1 216.6L396.9 217.9L396.5 219.3L397.0 221.0L398.2 220.4L399.3 219.2L399.8 217.6L399.2 216.3L399.7 215.8L400.9 216.1L402.7 215.8L402.7 215.8L401.5 214.4L399.8 213.0L397.8 211.6L395.7 210.0L394.1 208.4L392.5 206.7L391.2 205.3L390.0 203.9L389.3 202.6L390.0 201.7L391.4 200.9L390.8 199.3L388.6 198.4L386.0 198.2L383.5 198.7L381.1 198.8L378.9 199.7Z" fill="#990000"/>
<path d="M389.3 221.0L390.2 222.6L391.7 223.3L393.4 224.0L395.3 223.7L396.2 222.1L396.5 220.4L395.1 220.2L393.5 220.6L391.4 220.4Z" fill="#990000"/>
<path d="M380.0 213.4L380.2 215.5L380.4 217.3L381.4 218.8L383.0 218.3L383.6 216.7L383.9 214.7L383.2 213.0L381.5 212.6Z" fill="#990000"/>
<path d="M380.8 208.4L380.8 210.8L381.9 211.9L383.0 210.8L383.3 208.9L382.3 207.6Z" fill="#d7301f"/>
<path d="M375.3 198.2L376.3 200.3L377.6 200.5L379.5 200.3L381.3 199.7L382.6 198.4L383.3 196.3L381.2 195.6L378.7 195.9L376.9 196.8Z" fill="#d7301f"/>
<path d="M382.7 196.3L381.9 198.6L381.9 198.7L384.7 198.0L387.0 198.2L389.4 198.5L391.7 199.1L394.2 198.9L396.7 197.9L398.0 195.9L396.7 193.9L394.1 193.2L391.1 193.6L388.7 194.4L387.0 194.8L384.6 195.2Z" fill="#ef6548"/>
<path d="M397.5 195.6L396.1 197.7L398.1 199.7L400.6 200.1L403.6 199.7L406.1 198.5L407.9 196.7L409.2 194.7L407.7 192.8L405.2 193.8L402.9 194.4L400.5 195.0Z" fill="#d7301f"/>
<path d="M390.8 198.8L391.1 201.2L393.6 201.5L395.9 200.4L396.2 198.6L394.1 198.3Z" fill="#d7301f"/>
<path d="M407.4 196.3L406.8 197.5L406.2 199.4L406.8 201.9L408.7 203.2L410.4 204.4L412.2 205.6L414.7 205.9L417.7 205.6L420.7 205.6L422.0 203.7L423.3 201.8L422.0 199.8L420.2 197.5L418.4 194.8L416.0 193.6L412.9 193.2L409.9 193.6L408.6 194.5Z" fill="#ef6548"/>
<path d="M402.0 201.2L402.5 202.1L403.1 203.4L403.9 205.4L404.7 207.1L405.4 208.5L407.0 208.1L407.8 209.0L408.2 209.9L409.7 208.8L410.7 207.4L410.0 205.7L408.8 203.6L407.9 202.2L407.3 200.5L406.0 198.4L403.3 199.2Z" fill="#fc8d59"/>
<path d="M390.8 200.4L391.3 202.2L392.9 203.1L394.3 204.4L396.2 206.0L398.3 207.2L400.4 208.3L401.9 207.9L401.9 207.8L399.8 206.4L398.2 205.3L396.4 204.2L395.2 203.2L395.7 202.9L397.6 202.5L399.6 202.7L401.8 202.9L403.1 201.7L402.8 200.3L400.5 200.5L398.4 200.3L396.3 200.6L394.7 201.3L393.1 200.9Z" fill="#d7301f"/>
<path d="M395.0 202.6L396.0 203.9L397.4 204.5L399.1 205.5L400.7 206.8L402.1 207.7L403.6 206.7L404.1 205.3L403.2 203.4L401.8 202.5L399.7 202.3L397.6 202.1Z" fill="#ef6548"/>
<path d="M401.7 207.3L402.7 209.2L403.8 210.3L405.2 210.1L405.7 208.3L404.8 207.0L403.3 206.2Z" fill="#fc8d59"/>
<path d="M405.3 207.9L405.3 209.5L406.1 210.6L407.7 210.3L408.4 208.8L407.2 207.4Z" fill="url(#hatch)"/>
<path d="M403.9 210.0L403.9 211.5L404.1 213.2L404.7 214.9L406.0 216.1L406.5 214.4L407.0 212.7L406.7 210.9L405.5 209.5Z" fill="#ef6548"/>
<path d="M406.3 210.4L406.3 212.4L407.1 213.6L408.8 213.4L410.4 213.0L411.1 211.4L410.1 210.2L408.3 209.9Z" fill="#ef6548"/>
<path d="M410.0 207.3L410.5 209.0L410.2 210.7L411.0 212.1L412.8 212.6L414.6 212.2L416.2 211.6L418.2 211.1L420.3 211.4L421.8 210.4L421.5 208.6L422.2 206.9L421.0 205.4L418.5 205.6L416.1 206.1L413.7 205.8L411.5 205.8Z" fill="#d7301f"/>
<path d="M405.5 214.2L406.0 215.7L406.8 216.7L407.6 218.2L408.4 219.9L409.4 221.5L410.3 223.1L411.0 224.5L412.3 225.0L413.1 223.5L413.2 222.2L414.2 222.5L415.2 221.3L414.7 219.6L413.9 218.3L413.1 217.1L412.6 216.1L413.6 215.6L413.2 214.3L414.0 213.9L414.8 214.7L416.2 214.1L417.9 213.6L419.5 213.0L421.2 211.9L419.5 210.8L417.7 210.8L416.0 211.2L414.8 211.6L413.6 212.2L410.3 212.7L408.7 213.0L406.9 213.2Z" fill="#990000"/>
<path d="M413.6 227.0L414.3 228.4L416.1 228.9L418.2 229.2L420.5 228.8L420.0 227.7L417.8 227.2L415.7 226.8Z" fill="#990000"/>
<path d="M433.0 228.5L433.9 229.7L435.6 229.7L437.3 228.6L438.2 227.0L436.2 227.0L434.5 227.5Z" fill="#fc8d59"/>
<path d="M460.6 202.9L459.4 201.2L458.2 198.8L457.4 195.9L457.1 193.5L457.6 190.6L458.8 188.8L461.2 187.1L464.1 185.6L467.6 186.1L471.2 186.8L474.7 187.3L478.2 188.0L481.8 188.0L484.5 187.6L482.9 185.3L481.8 182.9L482.4 180.6L482.9 180.6L485.9 179.4L489.4 178.2L492.9 177.3L496.5 176.8L500.0 177.1L500.0 178.0L504.0 180.0L508.0 180.4L512.0 179.0L516.0 181.0L520.0 184.0L524.0 187.0L529.0 188.4L534.0 189.6L539.0 191.6L538.8 190.6L537.6 192.4L537.1 194.7L535.9 197.1L534.1 199.4L532.4 201.2L530.6 202.9L529.6 204.7L531.2 206.5L531.8 208.2L530.0 210.0L528.2 211.8L526.5 212.9L524.1 214.4L522.4 215.3L521.2 216.5L522.4 217.9L524.7 218.8L527.1 220.0L529.4 221.2L531.8 222.9L531.8 224.7L530.0 227.1L528.2 228.2L526.5 230.0L524.7 231.8L524.1 233.5L525.3 235.3L527.1 236.5L527.6 238.8L527.1 241.2L525.9 243.5L524.7 245.9L522.9 248.2L521.2 250.0L520.0 249.6L522.0 251.0L523.0 254.0L520.0 256.0L518.0 258.0L515.0 257.0L512.0 255.0L508.0 253.6L504.0 253.0L501.0 254.0L505.3 250.0L503.5 247.6L501.2 244.7L499.8 242.4L498.8 239.4L497.6 236.5L496.5 233.5L495.9 230.6L495.3 228.2L494.4 226.1L492.4 224.5L489.4 222.6L486.5 221.2L483.5 220.6L480.6 221.4L478.8 222.4Z" fill="#fef0d9"/>
<path d="M475.3 210.0L478.2 208.8L478.2 203.5L480.6 201.8L483.5 201.2L487.1 202.4L490.6 204.1L494.1 205.3L497.6 205.6L500.0 207.6L501.8 209.4L504.1 211.5L506.5 212.9L508.8 213.5L510.6 211.8L511.8 210.0L515.3 208.2L518.8 207.6L522.4 207.3L525.9 207.1L529.4 206.8L531.2 207.3" class="b"/>
<path d="M478.2 208.8L479.4 212.4L481.2 211.8L482.4 210.0L484.1 208.8L486.5 208.8L488.2 210.0L490.6 211.8L492.9 212.9L495.3 214.1L497.6 215.3L500.0 217.1L502.4 218.8L504.7 220.0L506.5 221.2L508.2 221.8" class="b"/>
<path d="M508.8 213.5L510.0 214.7L507.6 215.3L508.2 217.6L509.4 220.0L508.2 221.8L510.6 221.2L512.9 220.6L515.3 220.0L517.6 221.2L520.0 220.6L522.4 219.4L524.7 218.8" class="b"/>
<path d="M510.0 214.7L511.8 215.9L513.5 216.5L515.9 216.7L518.2 216.5L520.6 215.9L522.4 215.3" class="b"/>
<path d="M511.8 210.0L514.1 209.4L516.5 209.6L515.3 211.2L513.5 212.4L511.8 213.5L510.0 214.7" class="b"/>
<path d="M520.6 215.9L522.4 217.6L524.7 218.8" class="b"/>
<path d="M494.4 226.1L496.5 227.1L498.8 226.5L501.2 225.3L503.5 223.5L505.9 222.1L508.2 221.8" class="b"/>
<path d="M499.8 242.4L502.4 242.9L505.3 242.9L508.2 242.4L509.4 240.6L510.6 238.2L512.9 237.1L515.3 235.3L516.5 232.9L517.6 230.0L518.2 227.1L518.6 224.7L520.0 222.9L522.4 221.2L524.7 220.0" class="b"/>
<path d="M539.0 191.6L543.0 190.0L547.0 188.4L552.0 188.0L557.0 188.4L559.0 186.0L563.0 186.4L568.0 188.0L573.0 189.0L578.0 190.4L583.0 191.0L588.0 190.4L593.0 190.0L598.0 190.4L600.0 193.0L603.0 195.0L607.0 196.4L604.0 199.0L600.0 201.0L597.0 203.0L594.0 206.0L590.0 208.0L586.0 210.0L581.0 209.6L576.0 209.0L571.0 208.4L566.0 208.0L562.0 206.4L558.0 204.0L554.0 202.4L550.0 201.0L548.0 198.0L545.0 195.0L541.0 193.6Z" fill="#fef0d9"/>
<path d="M539.0 191.6L541.0 193.6L545.0 195.0L548.0 198.0L550.0 201.0L554.0 202.4L558.0 204.0L562.0 206.4L566.0 208.0L571.0 208.4L576.0 209.0L581.0 209.6L586.0 210.0L590.0 208.0L594.0 206.0L597.0 203.0L600.0 201.0L604.0 199.0L607.0 196.4L603.0 195.0L600.0 193.0L598.0 190.4L600.0 187.0L599.6 183.6L602.0 181.6L606.0 182.0L610.0 183.6L614.0 186.0L618.0 189.0L623.0 191.0L628.0 193.0L633.0 194.0L637.0 195.0L637.6 198.0L637.0 201.0L637.6 205.0L638.0 208.0L635.0 209.0L632.0 211.0L630.0 213.0L628.0 215.0L624.0 216.0L621.0 214.0L618.0 216.0L616.0 219.0L616.0 218.4L618.0 221.0L621.0 222.0L624.0 221.0L627.0 222.4L624.4 224.4L622.0 226.0L623.0 229.0L626.0 232.0L629.0 235.0L631.6 239.0L633.6 243.0L634.0 247.0L632.4 251.0L630.0 254.4L627.6 257.6L624.4 260.0L621.0 262.0L618.0 263.6L614.0 264.4L611.0 265.6L609.0 264.4L606.0 262.4L603.0 260.0L600.0 259.6L597.0 261.0L594.0 262.0L591.0 263.0L588.0 261.0L586.0 258.4L584.0 255.6L582.4 252.4L581.0 249.0L579.0 246.4L576.0 245.0L573.0 244.4L570.0 246.4L567.0 248.0L563.0 247.6L559.0 247.0L555.0 246.0L551.0 245.0L547.0 243.0L543.0 241.6L540.0 239.0L537.6 236.0L535.6 233.0L534.0 230.0L531.0 228.0L531.8 224.7L531.8 222.9L529.4 221.2L527.1 220.0L524.7 218.8L522.4 217.9L521.2 216.5L522.4 215.3L524.1 214.4L526.5 212.9L528.2 211.8L530.0 210.0L531.8 208.2L531.2 206.5L529.6 204.7L530.6 202.9L532.4 201.2L534.1 199.4L535.9 197.1L537.1 194.7L537.6 192.4L538.8 190.6Z" fill="#ef6548"/>
<path d="M609.3 268.9L609.3 270.7L610.2 272.0L612.3 272.4L614.1 271.4L615.0 269.3L613.6 268.0L611.3 268.0Z" fill="#ef6548"/>
<path d="M633.9 254.2L633.1 259.6L634.7 263.0L636.9 260.1L637.7 256.4L636.6 252.8Z" fill="#990000"/>
<path d="M458.8 218.2L461.2 217.4L463.5 216.7L466.5 216.7L468.2 217.6L469.2 219.8L470.8 221.8L472.9 223.5L475.3 224.1L477.6 223.8L478.8 222.4L480.6 221.4L483.5 220.6L486.5 221.2L489.4 222.6L492.4 224.5L494.4 226.1L495.3 228.2L495.9 230.6L496.5 233.5L497.6 236.5L498.8 239.4L499.8 242.4L501.2 244.7L503.5 247.6L505.3 250.0L501.0 253.6L498.0 252.0L494.0 251.0L491.0 250.0L489.0 249.0L487.0 250.4L484.0 250.0L480.0 248.4L477.0 246.4L474.0 243.6L471.6 241.6L470.0 241.5L468.8 240.0L468.2 237.6L467.4 235.3L465.9 233.5L464.1 231.8L462.9 230.0L463.5 227.6L462.4 225.3L461.2 223.5L460.0 221.8L459.2 220.0Z" fill="#fdbb84"/>
<path d="M441.3 221.2L459.4 220.8L465.2 227.8L463.5 236.1L441.3 236.1Z" fill="#fdd49e" class="nb"/>
<path d="M441.5 225.3L442.4 223.9L444.7 224.1L447.6 223.5L450.6 223.2L453.5 222.7L456.5 222.9L458.5 222.4L459.4 224.1L461.2 225.3L462.4 227.6L462.9 230.0L464.1 231.8L465.9 233.5L467.4 235.3L468.2 237.6L468.8 240.0L470.0 241.5L471.2 242.9L470.6 245.1L472.4 247.1L474.1 249.4L475.9 251.2L477.6 253.5L479.4 255.9L480.0 258.0L482.0 259.6L482.4 255.6L484.0 255.0L484.4 258.0L484.0 261.6L487.0 260.0L490.0 258.0L492.0 257.0L495.0 259.0L497.0 261.6L498.0 263.0L496.0 266.0L494.0 269.0L491.6 272.0L489.0 274.4L486.0 276.0L483.6 277.0L480.0 279.0L476.0 281.0L472.0 283.0L468.0 285.0L464.0 286.4L461.6 287.0L460.4 284.0L460.0 280.0L459.0 278.0L457.6 275.0L456.0 272.0L454.0 269.0L452.0 266.0L450.0 262.0L448.0 258.0L445.6 254.0L443.0 250.0L441.0 247.0L440.0 244.0L440.4 241.5L439.6 242.4L438.8 239.4L438.8 237.1L439.4 235.3L440.8 233.3L441.2 230.0L441.5 227.6Z" fill="#fdd49e"/>
<path d="M459.7 280.0L460.1 284.1L461.4 287.4L464.1 286.7L468.1 285.3L480.1 279.3L484.0 277.1L483.3 274.9L481.2 271.7L478.0 270.7L474.9 271.3L471.9 272.1L468.9 273.3L465.9 274.7L462.9 275.7L460.8 277.4Z" fill="#fef0d9"/>
<path d="M441.2 225.2L441.2 230.3L442.0 230.3L441.7 232.4L442.1 235.2L443.7 234.4L445.5 233.2L447.2 232.0L449.0 230.8L450.8 229.6L452.0 227.8L452.6 225.4L453.3 222.6L450.6 222.9L447.6 223.2L444.7 223.8L442.2 223.6Z" fill="#fdbb84"/>
<path d="M440.7 229.7L440.5 233.1L441.7 233.7L442.7 231.8L442.7 229.4Z" fill="#d7301f"/>
<path d="M439.1 235.2L438.5 237.0L438.5 239.5L439.5 242.9L439.6 243.0L440.6 241.3L441.1 238.9L441.5 236.5L441.9 233.6L440.7 232.9Z" fill="#ef6548"/>
<path d="M442.4 234.7L443.5 234.5L445.3 233.3L447.1 232.1L448.8 230.9L449.4 232.9L447.6 234.5L448.2 236.5L446.5 238.2L444.7 240.0L442.9 241.8L441.2 242.4L440.4 241.5" class="b"/>
<path d="M449.4 232.9L450.0 234.5L452.4 235.9L454.7 237.1L457.1 238.8L459.4 240.6L461.8 241.8L464.1 242.4L466.5 242.9L468.2 242.4L470.0 241.5" class="b"/>
<path d="M468.2 242.4L468.8 244.4L470.6 245.1" class="b"/>
<path d="M525.0 229.6L528.0 228.0L531.0 228.0L534.0 230.0L535.6 233.0L537.6 236.0L540.0 239.0L543.0 241.6L547.0 243.0L551.0 245.0L555.0 246.0L559.0 247.0L563.0 247.6L567.0 248.0L570.0 246.4L573.0 244.4L576.0 245.0L579.0 246.4L578.0 249.0L576.0 251.6L574.0 254.4L572.4 257.6L571.0 260.0L569.0 258.0L568.0 261.0L566.0 262.0L563.0 262.4L561.6 259.6L560.0 258.0L559.6 261.0L558.0 264.0L555.6 267.0L553.0 270.0L551.0 273.0L549.0 277.0L547.0 281.0L546.0 285.0L545.6 289.0L545.0 293.0L543.6 297.0L542.0 299.0L540.0 296.0L538.0 292.0L536.0 287.0L534.0 282.0L532.4 277.0L531.0 272.0L530.0 268.0L529.0 265.0L526.0 265.6L523.0 264.0L520.0 261.0L518.0 258.0L520.0 256.0L523.0 254.0L522.0 251.0L520.0 248.0L523.0 245.0L525.0 241.0L527.0 238.0L526.0 234.0Z" fill="#fdd49e"/>
<path d="M563.0 248.0L562.4 249.6L565.0 250.4L568.4 249.6L567.0 248.0" class="b"/>
<path d="M545.7 295.9L545.7 299.0L546.3 302.1L548.3 304.4L550.7 303.2L551.3 300.0L550.3 296.9L548.1 294.0Z" fill="#fc8d59"/>
<path d="M570.8 247.7L570.8 249.6L571.4 252.0L572.3 254.3L572.8 256.6L572.0 258.8L570.8 261.2L571.4 263.7L572.6 265.5L573.7 267.2L574.9 269.6L576.1 271.9L577.0 274.2L577.2 276.5L578.5 278.3L580.5 277.9L582.1 277.3L583.1 278.4L584.2 280.1L585.2 281.8L586.0 284.1L586.8 286.4L587.5 288.8L588.5 291.6L588.7 291.6L589.5 289.3L588.9 286.3L588.3 283.3L587.4 281.0L586.9 278.7L586.5 276.3L585.7 274.0L585.0 271.7L585.4 269.5L586.5 267.9L588.2 266.5L590.0 264.9L590.9 262.7L588.8 261.0L587.1 259.3L585.3 257.0L584.2 254.2L583.6 251.2L581.8 248.2L578.9 245.9L576.4 243.4L574.5 243.8L572.6 245.3Z" fill="#fdd49e"/>
<path d="M584.8 269.3L584.4 271.8L585.1 274.2L586.0 276.5L586.3 278.8L586.8 281.2L587.7 283.5L588.3 286.4L588.9 289.2L588.3 291.0L588.3 294.0L588.9 296.3L589.8 298.7L591.0 300.5L592.4 302.3L594.2 304.1L596.1 305.1L598.1 304.6L598.1 304.6L596.6 303.0L595.2 301.9L593.8 300.1L592.3 298.4L591.2 296.1L590.4 293.8L590.1 291.6L590.4 289.3L590.6 287.0L591.2 285.1L592.2 284.1L593.6 284.3L594.5 285.9L595.9 287.3L597.4 286.5L597.8 284.4L599.2 283.3L600.9 282.9L603.1 282.5L604.1 280.5L603.7 278.1L602.5 276.2L601.0 274.5L599.2 273.0L597.1 272.3L595.0 272.6L593.5 271.9L592.7 269.9L591.8 267.6L590.8 265.4L589.8 264.3L587.8 266.0L586.0 267.5Z" fill="#fc8d59"/>
<path d="M590.4 262.5L589.4 264.8L590.3 265.7L591.2 267.8L592.2 270.1L593.0 272.3L595.0 273.2L597.1 272.9L598.9 273.5L600.6 274.9L602.0 276.6L603.1 278.3L603.5 280.6L604.1 281.9L605.7 282.9L607.5 282.5L608.4 280.6L608.1 278.1L607.2 275.9L605.7 274.2L604.0 272.3L602.2 270.9L600.5 269.6L599.8 268.2L600.2 266.4L598.7 265.3L597.3 264.5L596.2 262.8L594.5 260.9L592.6 262.1Z" fill="#fef0d9"/>
<path d="M593.9 261.2L595.7 263.2L596.9 265.0L598.3 265.8L599.6 266.6L599.1 268.3L600.0 270.0L601.8 271.4L603.5 272.8L605.3 274.6L606.6 276.2L607.5 278.2L607.8 280.6L608.5 283.5L609.3 285.3L609.6 287.5L609.0 289.7L607.6 291.4L605.9 292.5L604.3 293.7L603.1 295.6L604.0 297.9L605.9 296.1L607.8 294.7L609.8 293.0L611.6 291.2L613.4 289.0L614.2 286.4L613.7 283.3L612.5 280.6L611.0 278.0L609.2 275.6L607.5 273.5L606.0 271.9L604.6 270.4L603.8 268.9L604.8 267.6L606.3 266.1L607.7 264.1L605.9 262.8L603.9 261.0L601.5 259.4L599.1 259.2L596.6 259.8Z" fill="#fdbb84"/>
<path d="M597.3 284.1L597.3 287.0L598.5 289.1L600.0 291.0L601.9 292.2L604.1 292.7L606.2 292.5L608.0 291.8L609.5 290.0L610.2 287.5L609.9 285.1L609.0 283.2L607.3 281.9L605.8 282.3L604.4 281.3L602.9 282.0L600.8 282.3L598.9 282.8Z" fill="#fdd49e"/>
<path d="M593.3 303.1L593.3 306.5L594.7 309.7L596.8 313.2L598.8 315.8L601.6 317.4L603.4 316.1L602.3 312.9L600.7 309.8L598.6 306.8L596.2 304.8L593.3 303.1Z" fill="#fdd49e"/>
<path d="M581.9 306.2L584.1 310.2L586.8 313.8L589.8 318.2L595.8 326.2L598.8 329.8L601.8 333.2L604.9 335.9L607.3 335.2L607.9 330.9L605.9 327.4L603.2 323.8L600.2 319.8L597.2 315.4L593.8 311.4L590.2 307.8L586.1 305.3Z" fill="#fdd49e"/>
<path d="M606.8 335.7L606.0 338.2L609.5 339.9L613.9 340.7L618.9 341.9L624.0 342.7L628.1 343.3L629.5 341.4L625.7 340.1L621.1 338.7L616.1 337.3L611.1 336.1Z" fill="#fdd49e"/>
<path d="M631.0 342.3L633.5 344.3L637.6 343.1L637.6 343.1L635.1 341.3L631.0 342.2Z" fill="#fdd49e"/>
<path d="M638.4 342.5L642.0 343.9L646.6 342.5L646.6 342.3L644.0 341.3L638.4 342.2Z" fill="#fdd49e"/>
<path d="M645.9 344.9L647.9 346.7L652.1 345.3L656.1 342.4L654.4 341.3L649.9 342.7Z" fill="#fdd49e"/>
<path d="M637.1 344.7L639.0 347.5L640.5 345.4L637.2 344.6Z" fill="#fdd49e"/>
<path d="M614.7 315.8L614.7 320.0L615.7 324.1L617.8 327.3L620.9 327.9L624.3 329.3L628.0 330.3L631.2 328.6L632.7 325.1L634.7 321.7L636.3 318.1L637.3 314.4L636.0 311.6L638.0 309.0L636.3 305.8L633.8 302.7L630.9 302.1L628.2 305.8L625.4 308.8L621.8 311.3L617.8 313.7Z" fill="#fdd49e"/>
<path d="M618.0 314.0L621.0 315.0L624.4 313.6L627.6 311.0L630.0 309.0L632.4 308.4L635.6 309.0" class="b"/>
<path d="M638.7 319.8L637.7 325.0L637.3 329.0L637.7 333.2L639.8 334.5L640.3 331.1L641.0 328.8L642.1 331.1L644.3 334.4L646.4 333.1L644.7 329.9L644.0 327.0L645.7 328.0L647.4 325.5L644.2 323.8L642.8 321.7L645.1 320.3L649.1 319.3L652.1 317.0L650.1 315.7L641.9 317.7Z" fill="#fdd49e"/>
<path d="M656.7 315.5L657.3 321.2L659.2 322.5L659.9 318.0L658.5 313.9Z" fill="#fdd49e"/>
<path d="M653.4 328.1L656.9 329.5L662.2 329.9L663.5 327.8L658.0 326.7L653.4 327.8Z" fill="#fdd49e"/>
<path d="M671.6 333.9L672.2 338.6L672.5 338.6L674.0 334.8Z" fill="#fdd49e"/>
<path d="M664.6 321.8L666.2 325.2L668.8 327.2L670.8 330.2L673.8 333.2L677.4 335.2L679.7 337.7L679.3 340.5L682.3 342.7L686.0 343.9L689.7 343.9L693.0 342.7L696.9 343.3L700.9 344.7L704.9 346.7L708.0 347.9L710.1 346.4L707.2 343.8L704.2 340.8L701.9 337.9L702.7 334.9L700.2 332.2L697.2 329.8L693.7 327.7L690.1 326.1L686.1 324.7L682.0 323.7L678.9 324.1L676.0 325.7L673.2 324.7L671.2 321.7L668.0 320.7Z" fill="#fdd49e"/>
<path d="M688.0 326.0L689.0 343.6" class="b"/>
<path d="M703.8 334.2L705.9 336.3L710.1 335.9L714.2 333.8L716.7 330.5L715.8 327.4L711.5 325.9L711.3 326.5L713.4 327.2L714.1 329.5L711.8 331.7L707.9 333.3L703.8 334.2Z" fill="#fdd49e"/>
<path d="M718.6 333.2L719.3 335.7L721.5 338.3L723.5 337.8L721.2 334.8L718.7 333.0Z" fill="#fdd49e"/>
<path d="M726.4 338.8L729.0 341.7L730.5 339.9L726.6 338.5Z" fill="#fdd49e"/>
<path d="M730.5 342.1L732.8 346.2L735.3 347.5L735.5 347.4L734.2 343.8L730.7 341.9Z" fill="#fdd49e"/>
<path d="M743.2 358.6L744.1 362.6L745.9 363.5L746.0 363.5L745.3 359.8L743.3 358.4Z" fill="#fdd49e"/>
<path d="M733.5 372.2L735.4 375.2L739.0 378.9L740.4 377.0L736.1 371.7Z" fill="url(#hatch)"/>
<path d="M637.1 271.5L636.5 273.1L636.2 275.5L636.0 278.4L637.0 280.8L638.0 282.8L639.5 283.8L640.9 284.3L642.4 284.9L644.0 285.5L645.8 286.2L647.1 284.9L645.4 283.3L643.5 282.8L641.7 282.3L640.9 281.1L641.3 278.9L642.1 276.5L642.3 274.1L641.3 271.8L639.2 271.0Z" fill="#fdd49e"/>
<path d="M638.3 284.7L639.1 287.0L640.8 287.9L641.4 285.8L640.2 284.3Z" fill="#fdd49e"/>
<path d="M647.3 287.0L647.3 288.8L648.3 289.8L648.8 291.7L650.0 293.4L651.2 292.2L651.7 290.1L651.2 288.1L649.6 286.8Z" fill="#fdd49e"/>
<path d="M642.2 289.4L642.2 291.2L643.2 292.2L644.1 293.1L644.3 294.9L645.2 296.7L646.8 295.5L647.5 293.4L647.0 291.4L645.5 290.1L644.1 288.8Z" fill="#fdd49e"/>
<path d="M647.6 298.2L646.7 297.8L645.1 298.3L643.6 299.8L643.0 301.7L644.9 301.7L646.2 300.8L647.4 301.6L648.4 303.0L649.8 304.5L651.4 305.5L653.1 304.4L654.1 302.5L654.5 300.0L654.1 297.6L653.0 295.3L651.3 295.0L649.3 296.9Z" fill="#fdd49e"/>
<path d="M632.0 298.2L633.1 299.0L634.2 297.6L635.7 295.7L637.1 293.6L638.3 291.0L637.4 290.1L636.1 292.3L634.7 294.2L633.3 296.1Z" fill="#fdd49e"/>
<path d="M766.2 364.8L766.6 367.8L769.6 367.1L773.7 364.6L774.4 361.6L770.3 362.6Z" fill="#fdbb84"/>
<path d="M665.8 349.7L669.2 350.8L673.3 352.0L676.3 352.0L675.0 355.0L673.3 358.3L675.8 360.8L679.2 363.3L682.5 365.8L685.0 363.3L686.3 359.2L687.5 354.2L689.2 349.2L690.3 348.0L691.7 351.7L693.3 356.7L695.0 359.2L695.3 363.3L697.5 367.5L700.0 370.8L701.7 375.0L703.7 379.2L705.3 383.3L705.8 387.5L705.3 390.8L704.2 395.0L702.0 399.2L699.7 403.3L696.7 407.5L693.3 411.3L690.0 414.7L686.7 417.5L683.3 419.7L680.0 421.3L676.7 421.7L673.3 420.3L670.8 421.3L668.3 419.7L666.7 417.0L665.0 414.2L664.2 410.8L664.7 407.5L662.5 410.0L660.8 411.7L658.3 408.3L655.8 405.8L652.5 404.2L648.3 404.2L644.2 405.0L640.0 405.8L635.8 407.0L631.7 408.7L627.5 410.0L623.3 410.8L619.2 411.7L615.8 411.3L614.2 409.2L615.8 406.7L617.5 403.3L618.7 399.2L618.3 395.0L617.5 390.8L618.0 386.7L618.7 382.5L619.7 379.2L621.7 377.0L625.0 375.3L629.2 374.2L633.3 372.5L636.7 370.8L640.0 368.3L642.5 365.0L645.0 362.5L648.3 360.0L651.7 357.5L655.0 356.3L657.5 357.5L659.2 355.8L660.8 353.3L663.3 351.3Z" fill="#990000"/>
<path d="M668.4 426.4L668.0 429.1L667.2 431.7L669.1 434.0L672.2 432.8L674.9 430.2L676.7 427.4L675.1 426.0L671.6 425.5Z" fill="#990000"/>
<path d="M739.4 409.4L738.7 412.4L738.7 415.6L737.7 418.9L735.8 421.8L733.4 424.2L731.6 426.4L732.9 428.8L735.1 427.9L737.8 426.3L740.2 424.6L742.6 422.6L745.2 420.6L747.6 418.2L747.6 418.2L743.2 417.3L741.9 414.9L741.3 411.9L739.5 409.4Z" fill="#fc8d59"/>
<path d="M728.0 426.0L725.4 427.3L722.8 429.4L719.5 431.3L711.5 435.3L707.9 437.3L705.3 438.8L705.8 441.3L709.1 441.3L712.1 439.9L715.7 437.9L722.5 433.9L726.1 431.9L729.2 430.2L730.4 427.9Z" fill="#fc8d59"/>
<path d="M8.8 267.8L9.4 271.0L11.2 270.6L12.4 268.6L10.9 267.2Z" fill="#d7301f"/>
<path d="M1.7 261.3L1.7 262.8L3.6 262.8L3.6 261.6Z" fill="#d7301f"/>
<path d="M4.9 263.0L5.4 264.4L7.6 265.6L9.2 265.6L9.3 265.4L7.7 264.1L5.0 262.8Z" fill="#d7301f"/>
<path d="M334.7 248.2L337.1 245.9L339.4 243.5L341.2 241.2L341.8 238.8L342.4 236.5L343.2 234.1L344.7 231.8L346.5 230.0L348.2 228.2L350.0 227.1L351.8 227.1L353.5 227.6L355.9 227.6L358.2 228.2L360.6 227.1L363.5 226.1L366.5 225.3L370.0 224.7L373.5 224.5L377.1 224.1L379.4 223.8L381.2 223.3L382.9 222.6L385.1 222.9L386.5 223.8L385.9 225.9L387.1 227.6L386.2 229.4L387.4 231.2L388.2 232.9L390.0 233.5L392.4 234.1L394.7 234.7L397.1 235.9L399.4 237.6L401.8 238.8L404.1 240.0L405.9 239.4L407.1 237.6L408.2 235.9L410.6 235.1L412.9 235.3L415.3 236.2L417.1 237.1L420.6 237.6L424.1 238.2L427.6 238.2L430.0 237.9L431.2 238.5L433.5 237.6L436.5 237.6L438.8 237.1L438.8 239.4L439.6 242.4L440.4 245.3L439.4 247.6L438.2 245.9L436.8 243.5L435.3 242.4L436.5 245.3L438.2 248.2L440.0 251.2L441.8 254.1L443.5 257.1L444.7 260.0L445.0 261.0L447.6 266.0L450.0 271.0L452.0 275.0L454.4 279.0L457.0 282.0L459.6 286.0L461.0 288.4L463.0 291.0L466.0 290.4L470.0 289.6L475.0 289.0L480.0 288.4L479.6 292.0L478.0 296.0L475.6 300.0L473.0 304.0L470.0 308.0L467.0 312.0L464.0 315.6L461.0 319.6L458.4 323.6L456.0 328.0L454.4 332.0L453.6 336.0L454.0 341.0L455.0 346.0L455.6 350.0L456.0 352.0L456.4 356.0L456.0 360.0L454.4 363.0L452.0 365.6L449.0 368.0L446.0 370.0L443.0 373.0L442.0 376.0L443.6 379.0L443.0 382.0L441.0 384.4L439.0 387.0L437.0 390.0L435.6 393.6L433.6 397.0L431.0 400.0L428.0 403.0L424.0 406.0L420.0 408.0L415.0 409.0L411.0 409.6L407.0 410.4L404.0 409.0L403.0 406.0L402.0 402.0L401.0 398.0L399.6 394.0L398.0 389.0L396.0 384.0L394.0 379.0L392.0 374.0L390.0 369.0L389.0 364.0L389.6 358.0L391.0 352.0L392.4 346.0L394.0 340.0L393.0 339.0L392.0 335.0L391.0 332.0L389.0 328.0L386.0 324.0L384.0 321.0L384.4 317.0L385.0 313.0L383.0 310.0L380.0 309.0L376.0 308.0L373.0 305.0L370.0 304.0L366.0 305.0L361.0 306.0L356.0 307.0L351.0 307.6L347.0 308.4L343.0 308.0L340.0 306.0L337.0 303.0L335.0 300.0L332.4 297.0L330.0 294.0L327.0 291.0L325.0 288.0L323.6 285.0L322.4 282.0L323.6 280.0L325.0 276.0L325.6 272.0L325.0 268.0L324.4 264.0L327.0 259.0L329.0 255.0L332.0 251.0L335.0 248.0Z" fill="#fef0d9"/>
<path d="M334.4 248.3L344.2 247.6L344.4 244.3L346.1 242.6L347.8 241.4L354.9 237.9L356.6 236.5L359.0 235.6L361.0 234.2L359.7 232.2L359.1 229.9L358.5 228.0L355.9 227.3L353.6 227.3L351.8 226.8L349.9 226.8L348.0 228.0L346.3 229.8L344.5 231.6L342.9 234.0L342.1 236.4L341.5 238.8L340.9 241.0L339.2 243.3L336.8 245.7L334.4 248.2Z" fill="#fdbb84"/>
<path d="M333.7 247.9L332.2 249.9L330.3 253.0L327.9 257.3L325.6 261.0L324.0 264.8L333.6 264.5L333.9 259.5L336.0 259.1L336.5 252.9L343.8 252.8L343.5 247.9Z" fill="url(#hatch)"/>
<path d="M358.2 228.2L360.6 227.1L363.5 226.1L366.5 225.3L370.0 224.7L373.5 224.5L377.1 224.1L379.4 223.8L381.2 223.3L380.6 225.3L380.0 227.6L379.4 230.0L380.0 232.4L381.8 234.1L383.5 236.5L384.1 238.8L384.4 241.2L384.7 244.1L385.1 247.1L385.3 249.6L384.4 246.0L385.0 251.0L385.6 255.0L388.0 257.0L386.0 259.0L383.0 261.0L380.0 263.0L377.0 265.0L374.0 267.0L372.4 269.6L370.0 268.0L367.0 266.0L364.0 264.0L360.0 261.0L356.0 258.4L352.0 255.6L348.0 253.0L345.0 250.0L343.6 248.0L343.9 247.3L344.1 244.1L345.9 242.4L347.6 241.2L350.0 240.0L352.4 238.8L354.7 237.6L356.5 236.2L358.8 235.3L360.6 234.1L359.4 232.4L358.8 230.0Z" fill="#fdbb84"/>
<path d="M380.9 223.1L380.3 225.2L379.1 230.0L379.7 232.5L381.5 234.3L383.3 236.6L383.8 238.9L384.2 240.6L384.4 240.6L385.3 238.4L386.1 236.6L387.3 234.9L388.6 233.0L387.7 231.0L386.6 229.4L387.4 227.6L386.2 225.8L386.8 223.6L385.2 222.7L382.9 222.3Z" fill="#fc8d59"/>
<path d="M384.4 240.0L385.1 238.2L385.9 236.5L387.1 234.7L388.2 232.9L390.0 233.5L392.4 234.1L394.7 234.7L397.1 235.9L399.4 237.6L401.8 238.8L404.1 240.0L405.9 239.4L407.1 237.6L408.2 235.9L410.6 235.1L412.9 235.3L415.3 236.2L417.1 237.1L417.6 238.8L418.0 242.4L418.2 245.9L418.2 249.6L419.6 252.0L420.0 262.4L419.6 268.0L416.0 266.0L412.0 264.0L408.0 262.0L404.0 260.0L400.0 259.0L397.0 260.0L394.0 259.0L391.0 258.0L388.0 257.0L385.6 255.0L385.0 251.0L384.4 246.0Z" fill="#fdbb84"/>
<path d="M416.6 236.7L417.4 238.9L417.7 242.4L417.9 245.9L417.9 249.7L419.3 252.1L419.7 262.7L436.0 262.7L446.1 262.3L445.0 259.9L443.8 256.9L436.7 245.2L436.0 243.3L436.6 243.7L438.0 246.0L439.5 248.2L439.5 248.2L440.7 245.3L439.9 242.3L439.1 239.4L439.1 236.7L436.4 237.3L433.5 237.3L431.2 238.1L430.0 237.6L427.6 237.9L424.1 237.9L420.6 237.4Z" fill="#fdd49e"/>
<path d="M420.0 262.4L428.0 262.4L436.0 262.4L445.6 262.0L447.0 266.0L449.0 270.0L450.4 274.0L448.4 277.0L447.0 280.0L445.6 283.0L444.0 286.0L442.4 290.0L440.0 293.0L438.0 290.0L437.0 288.0L435.0 291.0L433.0 293.6L430.0 294.4L427.0 293.6L424.0 293.0L421.0 295.0L419.0 296.0L417.6 293.0L416.0 290.0L414.4 287.0L415.0 283.0L417.0 280.0L419.0 277.0L419.6 272.0L420.0 267.0Z" fill="#fdd49e"/>
<path d="M447.0 280.0L450.0 279.0L453.0 280.0L456.0 282.0L459.6 285.0" class="b"/>
<path d="M389.4 365.0L396.0 365.6L403.0 366.0L411.0 366.4L416.0 367.0L420.0 366.0" class="b"/>
<path d="M411.0 366.4L410.0 372.0L408.0 377.0L407.6 383.0L407.0 389.0L406.4 394.0L404.0 395.6L401.0 395.0L399.6 394.0" class="b"/>
<path d="M408.0 390.0L411.0 388.0L414.0 387.0L417.0 388.0L420.0 386.0L423.0 383.0L425.0 380.0L428.0 378.0" class="b"/>
<path d="M420.0 366.0L422.0 370.0L425.0 374.0L428.0 378.0L432.0 377.6L435.0 375.0L437.0 371.0L437.6 367.0L438.0 363.0L436.0 360.0L432.0 359.0L428.0 360.0L424.0 363.0L420.0 366.0" class="b"/>
<path d="M432.0 377.6L433.6 381.0L434.4 385.0L435.0 388.0" class="b"/>
<path d="M422.4 398.0L425.6 395.0L428.4 397.0L425.0 400.4L422.4 398.0" class="b"/>
<path d="M432.0 388.0L433.6 387.0L435.2 388.4L434.8 390.4L432.8 390.8L432.0 389.6L432.0 388.0" class="b"/>
<path d="M414.4 349.0L418.0 353.0L415.0 354.0L413.0 358.0L413.0 362.0L416.0 366.0" class="b"/>
<path d="M439.0 344.0L441.0 348.0L440.4 352.0L441.6 356.0L444.0 359.0L443.6 362.0L441.6 361.0L440.0 358.0L439.0 354.0L438.0 350.0L439.0 344.0" class="b"/>
<path d="M438.0 363.0L441.0 362.0L443.6 362.0" class="b"/>
<path d="M475.6 351.1L474.2 352.8L472.8 355.4L470.2 357.8L465.4 361.8L463.7 364.9L462.7 368.9L462.1 372.9L460.7 376.3L460.1 380.0L460.7 383.7L462.8 386.7L465.7 386.7L468.2 384.6L470.3 381.1L471.9 377.1L474.7 369.1L477.9 361.1L478.3 357.0L477.3 353.5Z" fill="#fef0d9"/>
<path d="M492.1 372.1L492.1 373.9L493.9 373.9L493.9 372.1Z" fill="#d7301f"/>
<path d="M349.1 257.9L349.7 265.0L350.3 279.1L343.2 279.7L336.2 280.3L335.6 283.8" class="b"/>
<path d="M323.8 281.5L326.2 278.5L329.1 276.5L332.1 277.4L334.4 279.1L336.2 280.9" class="b"/>
<path d="M335.6 283.8L336.2 286.8L333.8 287.4L331.5 287.1L329.1 287.9L326.8 288.5L325.0 287.9" class="b"/>
<path d="M324.4 284.4L326.8 283.8L329.1 283.6L330.9 284.4L329.1 285.6L326.8 285.9L324.4 285.9" class="b"/>
<path d="M326.8 288.5L328.5 290.3L329.7 291.5L331.5 290.3L333.8 289.1L336.2 287.9L338.5 287.4L340.9 287.9L342.6 289.7L343.8 292.6L343.2 295.0L343.8 297.4L343.2 299.1L342.1 300.3" class="b"/>
<path d="M332.6 296.8L333.8 294.4L335.6 293.2L337.4 293.8L338.5 295.6L339.1 297.9L337.9 299.7L336.8 301.5" class="b"/>
<path d="M339.1 297.9L340.9 299.1L342.6 300.3L343.8 302.6L345.0 305.6L345.6 307.9" class="b"/>
<path d="M336.2 286.8L338.5 287.4" class="b"/>
<path d="M343.8 293.2L346.8 293.0L349.7 292.6L350.9 289.7L352.6 287.4L355.0 285.0L357.4 282.6L360.3 280.9L363.2 280.3L366.8 280.1L370.3 279.1L372.1 276.8L372.6 270.9L372.4 269.7" class="b"/>
<path d="M363.2 280.3L364.4 283.8L366.2 286.2L367.9 287.9L366.8 289.7L364.4 290.9L361.5 291.5L358.5 291.5L356.2 291.5L355.6 293.2L352.6 293.8L350.3 293.2L349.7 292.6" class="b"/>
<path d="M356.2 291.5L356.8 295.6L356.2 299.1L355.9 302.6L356.4 306.8" class="b"/>
<path d="M363.8 291.5L364.2 295.6L364.4 300.3L365.0 304.4" class="b"/>
<path d="M365.6 291.1L366.2 295.6L366.5 300.3L366.8 303.8" class="b"/>
<path d="M367.9 287.9L370.1 289.7L369.7 294.4L369.4 299.1L369.1 303.2" class="b"/>
<path d="M370.1 289.1L372.1 286.2L374.4 284.4L377.4 284.8L380.9 285.9L384.4 286.4L387.9 285.9L391.5 285.0L394.4 284.4L395.6 286.2" class="b"/>
<path d="M397.4 265.0L398.5 269.7L397.4 274.4L396.2 279.1L394.4 282.6L394.4 284.4" class="b"/>
<path d="M395.6 286.2L396.2 289.1L395.0 292.1L393.8 295.0L392.1 297.9L390.3 300.3L387.4 301.5L385.0 303.2L383.8 305.6L383.0 308.5" class="b"/>
<path d="M395.6 286.2L396.8 288.5L396.2 290.9L397.9 293.2L397.4 295.6L398.5 298.5L399.1 300.3" class="b"/>
<path d="M399.1 300.3L397.4 302.6L396.8 305.6L397.4 308.5L398.5 311.5L399.7 313.8" class="b"/>
<path d="M385.6 313.8L389.1 313.8L392.6 314.2L396.2 314.4L399.7 314.4L402.1 312.6L403.8 310.9" class="b"/>
<path d="M389.1 313.8L389.1 317.4L385.4 317.4" class="b"/>
<path d="M389.1 317.4L391.5 316.8L393.8 316.2L396.2 317.4L396.8 320.3L396.2 323.2L395.0 325.6L393.2 326.8L391.5 326.2L390.3 328.5L390.9 330.9L390.3 332.6" class="b"/>
<path d="M399.7 314.4L400.9 316.8L401.5 319.1L400.9 322.1L400.3 325.0L399.1 327.9L397.4 330.3L395.0 332.1L392.6 333.2L390.9 333.8" class="b"/>
<path d="M459.7 287.9L461.5 287.4L462.6 289.1L461.5 290.9L459.7 290.3" class="b"/>
<path d="M461.5 290.9L463.2 293.2L466.2 295.6L469.7 297.4L473.0 299.1L469.7 302.6L467.4 305.0L465.0 306.8L462.1 308.5L459.1 309.7" class="b"/>
<path d="M439.1 299.1L441.5 302.1L443.8 305.0L446.2 307.4L449.1 309.1L452.1 309.9L455.6 309.9L459.1 309.7" class="b"/>
<path d="M445.0 285.0L443.2 287.9L441.5 290.3L440.3 293.2L440.9 296.2L439.1 299.1" class="b"/>
<path d="M419.1 296.8L421.5 299.7L423.8 302.6L425.6 305.6L427.9 307.9L430.9 309.1L433.2 309.9L436.8 310.3L439.7 309.1L442.1 307.9L443.8 305.6" class="b"/>
<path d="M399.1 299.7L400.3 299.7L403.8 298.5L407.4 296.8L410.3 294.4L413.8 291.5L415.0 288.5" class="b"/>
<path d="M396.8 300.3L396.2 303.8L396.8 307.4L398.5 309.7L401.5 310.9L404.4 310.3L406.2 307.9L409.1 307.4L412.6 307.9L415.6 307.4L419.1 306.8L422.6 306.2L425.6 305.6" class="b"/>
<path d="M406.2 307.9L405.0 310.9L404.4 314.4L403.8 317.9L402.6 321.5L400.9 325.0L399.1 327.9L396.8 330.9L394.4 332.6L391.5 333.2L390.3 331.5L389.1 329.7" class="b"/>
<path d="M390.9 314.4L393.8 315.8L396.2 316.8L396.8 320.3L396.2 323.8L395.6 326.2L393.2 326.8L390.9 326.2L389.7 328.5L389.1 329.7" class="b"/>
<path d="M433.2 310.3L433.8 313.2L432.6 316.2L431.5 319.1L430.9 322.6" class="b"/>
<path d="M442.1 308.5L442.9 311.5L443.2 315.0L442.6 318.5L441.5 321.5L441.2 322.6L437.9 322.6L434.4 322.9L431.5 323.2" class="b"/>
<path d="M441.2 322.6L443.8 324.4L447.4 326.2L450.3 328.5L452.6 330.9L453.8 332.1" class="b"/>
<path d="M459.1 309.7L457.9 313.2L457.7 317.4L457.9 321.5L458.5 324.4" class="b"/>
<path d="M430.9 322.6L429.7 325.6L430.3 328.5L431.5 331.5L430.3 334.4L431.5 337.4L432.6 340.3L433.8 341.5" class="b"/>
<path d="M431.5 331.5L432.6 329.1L433.2 326.2L433.8 324.4L431.5 323.2" class="b"/>
<path d="M430.3 328.5L433.2 328.3" class="b"/>
<path d="M391.5 333.2L395.0 335.0L399.1 335.4L401.5 337.4L402.6 339.7L405.6 340.3L407.9 338.5L410.9 337.9L413.0 339.1L413.5 342.6L413.8 346.2L414.4 349.1L416.8 349.5L419.1 350.3L422.6 351.5L426.2 352.1L429.1 352.6" class="b"/>
<path d="M429.1 352.6L428.5 348.5L428.3 345.0L429.1 342.1L432.1 341.2L433.8 341.5L436.8 342.6L439.1 343.8L440.1 346.2L439.4 349.1L440.3 352.1L440.9 355.0" class="b"/>
<path d="M441.5 349.5L445.0 349.9L449.1 349.7L452.6 349.1L455.4 347.9" class="b"/>
<path d="M440.5 197.4L447.1 201.5L456.1 208.1L462.7 212.2L467.6 214.6L469.3 219.6L467.6 223.7L462.7 226.2L458.6 222.9L456.1 214.6L449.5 209.7L441.3 203.9Z" fill="#fdbb84" class="nb"/>
<path d="M422.4 194.9L431.4 197.4L434.7 198.6L435.5 201.1L437.2 201.5L439.0 201.5L439.0 203.3L434.7 204.1L433.5 203.9L429.8 200.2L426.5 199.8L423.2 201.5Z" fill="#fdd49e" class="nb"/>
<path d="M422.9 211.0L422.9 212.5L422.1 213.6L420.5 214.8L419.6 216.2L420.0 217.9L419.6 219.6L420.5 221.4L422.2 222.7L423.9 223.6L425.5 224.4L427.7 225.3L429.8 224.8L431.4 224.4L433.4 224.7L435.5 224.8L438.0 224.4L439.9 224.7L441.4 225.9L442.0 224.3L442.7 223.6L444.6 223.2L447.1 223.0L449.6 222.8L452.0 222.4L454.5 221.9L456.5 222.2L459.0 222.9L458.5 220.8L458.1 219.1L457.6 217.4L457.0 215.7L455.9 214.4L454.6 213.2L453.0 212.3L451.4 211.5L450.4 209.5L450.3 209.5L449.7 210.7L447.8 211.5L445.4 211.9L443.0 211.6L440.6 210.7L438.1 209.8L435.5 209.4L433.0 209.7L430.5 210.2L428.0 211.1L425.6 211.5Z" fill="#990000"/>
<path d="M418.3 211.6L418.8 213.3L420.7 213.7L422.5 213.3L423.8 211.4L422.0 210.4L420.2 210.9Z" fill="#990000"/>
<path d="M417.4 194.9L420.1 197.5L421.3 199.2L422.2 201.0L423.9 200.4L423.5 198.5L422.6 196.8L421.3 195.1L420.0 193.8L418.5 193.3Z" fill="#fdbb84"/>
<path d="M446.0 206.5L448.1 208.1L449.3 209.1L450.1 210.3L451.0 212.0L453.6 212.5L456.1 212.9L458.6 213.3L460.4 212.9L462.0 211.3L459.5 209.8L456.2 208.6L452.9 207.8L449.6 206.9L446.2 206.2Z" fill="#fdbb84"/>
<path d="M455.6 212.2L456.7 214.8L458.0 216.1L459.7 217.4L461.5 217.9L463.1 216.8L460.4 213.1L458.6 212.7L455.7 212.2Z" fill="#fdd49e"/>
<path d="M459.9 212.5L459.9 213.5L462.5 216.9L464.2 218.2L465.9 219.0L467.7 220.0L468.8 218.4L467.9 216.2L467.1 213.6L464.9 212.3L463.2 211.5L461.4 211.0Z" fill="#fef0d9"/>
<path d="M458.0 216.9L459.7 219.1L462.0 219.1L462.1 218.9L460.4 217.3L458.1 216.7Z" fill="#fef0d9"/>
<path d="M423.6 201.9L422.4 204.4L421.5 206.8L421.4 208.9L421.9 210.5L423.2 211.8L425.6 212.2L428.1 211.8L430.6 210.9L433.1 210.4L435.5 210.1L438.0 210.5L440.5 211.4L442.9 212.3L445.4 212.6L447.9 212.2L449.9 211.4L450.4 210.1L449.5 208.9L448.3 207.9L446.6 206.8L445.0 206.0L443.4 205.2L441.7 204.1L440.5 203.3L438.8 203.1L437.2 203.0L435.9 203.3L434.7 203.9L433.9 203.8L433.1 202.7L431.8 201.5L430.6 200.6L429.8 199.7L428.5 199.0L426.9 199.2L425.6 199.8L424.4 200.8Z" fill="#ffffff"/>
<path d="M460.2 203.5L461.5 201.5L463.1 199.8L465.2 198.6L467.6 197.8L470.1 198.2L471.8 199.4L471.4 201.1L469.7 201.9L468.5 203.1L468.9 205.2L470.5 206.8L472.6 208.5L475.1 209.7L476.7 210.5L478.4 211.4L477.5 213.4L475.9 213.0L475.1 214.2L476.7 216.7L478.4 218.8L479.2 221.2L477.9 222.9L475.9 223.7L473.4 223.3L471.4 222.1L469.7 220.4L468.5 218.4L467.6 216.3L466.8 213.8L466.0 211.4L464.8 209.3L463.1 207.2L461.5 205.6Z" fill="#ffffff"/>
<path d="M435.1 199.0L436.8 198.2L438.8 197.8L440.9 198.2L441.3 199.4L440.5 200.6L438.8 201.3L436.8 201.5L435.4 200.8Z" fill="#ffffff"/>
<path d="M105.7 234.0L105.3 238.0L106.7 242.5L108.7 247.1L110.9 251.1L113.3 256.1L115.8 260.2L118.1 261.4L119.9 259.1L118.7 254.9L116.7 249.9L111.9 239.9L110.2 234.9Z" fill="#fc8d59"/>
<path d="M219.9 274.1L219.9 275.5L221.2 275.5L221.2 274.1Z" fill="#ef6548"/>
<path d="M221.7 274.3L221.7 275.7L223.0 275.7L223.0 274.3Z" fill="#ef6548"/>
<path d="M221.9 278.8L221.9 280.2L223.2 280.2L223.2 278.8Z" fill="#ef6548"/>
<path d="M222.9 282.9L222.9 284.3L224.2 284.3L224.2 282.9Z" fill="#ef6548"/>
<path d="M222.3 284.6L222.3 286.1L223.6 286.1L223.6 284.6Z" fill="#ef6548"/>
<path d="M225.8 284.6L225.8 286.1L227.1 286.1L227.1 284.6Z" fill="#ef6548"/>
<path d="M220.8 287.6L220.8 289.0L222.1 289.0L222.1 287.6Z" fill="#ef6548"/>
<path d="M478.3 254.4L477.7 259.0L479.7 267.1L480.7 270.6L481.2 272.1L482.2 274.7L483.9 276.6L486.2 275.2L492.2 270.7L493.7 269.2L495.7 265.2L497.3 263.7L498.1 261.4L496.2 259.3L492.2 256.3L490.8 254.9L491.1 253.5L490.9 251.4L489.7 249.9L489.6 249.9L489.2 252.4L488.3 253.8L487.3 254.8L485.9 255.7L483.9 256.2L481.5 256.5L479.7 256.2L478.5 254.4Z" fill="#fdd49e"/>
<path d="M475.2 251.3L475.2 254.3L476.2 255.5L477.1 254.1L476.8 252.3L475.2 251.3Z" fill="#fdd49e"/>
<path d="M480.0 258.5L481.0 259.5L483.0 260.0L485.5 260.5L487.5 260.5L488.0 258.5L488.5 256.0L489.0 254.5" class="b"/>
<path d="M481.0 270.5L484.0 269.5L486.5 268.5L487.5 267.0L488.0 264.5L488.2 262.0L487.5 260.5" class="b"/>
<path d="M460.7 275.3L460.2 277.9L459.7 281.0L460.2 283.6L461.9 285.3L464.5 285.1L467.1 284.5L469.6 283.8L474.6 281.8L477.1 280.5L479.6 279.3L482.2 277.8L484.5 276.3L482.8 274.3L481.8 271.9L481.2 270.1L478.9 270.9L472.9 272.5L469.9 273.2L463.9 274.2Z" fill="#fef0d9"/>
<path d="M440.0 243.5L442.5 247.5L445.5 252.5L448.5 257.5L451.5 262.5L454.0 267.5L457.0 272.5L460.0 277.5L461.0 275.5L463.0 273.0L455.0 265.0L446.0 249.0L442.0 243.0Z" fill="#fdd49e" class="nb"/>
<path d="M438.8 247.2L440.0 246.5L440.5 245.0L440.0 243.5L441.0 245.5L442.5 247.5L444.0 250.0L445.5 252.5L447.0 255.0L448.5 257.5L450.0 260.0L451.5 262.5L452.8 265.0L454.0 267.5L455.5 270.0L457.0 272.5L458.5 275.0L460.0 277.5L460.5 280.0L460.5 283.5L460.0 285.0L458.0 284.5L456.0 282.0L454.5 279.5L453.0 277.0L451.5 274.5L450.0 272.0L449.0 269.5L448.0 267.0L447.0 264.5L446.0 262.0L445.0 259.5L443.8 257.0L442.5 254.5L441.0 252.0L439.5 249.5Z" fill="#ffffff"/>
<path d="M438.8 247.2L437.2 246.5L436.0 245.0L435.0 243.5L434.0 242.0L434.8 242.0L436.2 243.6L437.5 245.0L439.2 246.4Z" fill="#ffffff"/>
<path d="M627.8 215.3L629.2 217.3L630.9 218.4L631.5 220.3L633.6 220.7L635.5 219.7L636.9 218.3L635.6 216.3L635.0 214.7L635.6 213.1L636.9 211.4L638.2 209.4L637.2 207.9L635.2 208.6L633.3 209.8L631.6 211.6Z" fill="#fc8d59"/>
<path d="M635.1 219.2L632.9 220.3L632.9 220.4L635.1 221.4L636.0 223.1L636.8 225.4L637.6 227.8L638.6 229.7L640.6 230.3L642.5 229.7L644.1 228.3L643.6 226.1L642.0 223.4L640.2 221.0L638.4 219.2L636.4 217.8Z" fill="#ef6548"/>
<path d="M655.4 201.4L656.7 204.7L655.9 206.4L656.4 209.0L658.1 210.8L660.1 211.5L662.0 209.6L663.7 208.5L666.1 207.9L667.2 205.8L664.8 204.0L662.4 204.7L660.1 204.1L657.8 202.7L655.6 201.2Z" fill="#990000"/>
<path d="M660.0 212.1L662.4 213.3L664.1 215.3L664.9 217.6L665.6 220.6L666.8 223.5L668.0 226.5L667.6 228.2L665.9 229.8L663.5 230.9L661.2 231.8L659.4 232.4L657.6 231.2L655.3 230.6L653.5 230.9L651.8 229.8L649.4 230.2L647.6 231.8L646.8 233.5L648.8 232.4L650.6 231.2L652.4 229.4L654.7 228.6L657.1 227.6L658.2 225.9L657.6 223.9L658.6 221.8L660.0 220.0L660.2 217.6L659.8 215.3L659.4 213.5Z" fill="#990000"/>
<path d="M646.4 233.5L647.8 234.9L649.2 235.9L650.3 237.8L651.8 239.3L653.0 237.7L652.6 235.8L651.8 234.3L650.1 232.7L647.9 232.3Z" fill="#990000"/>
<path d="M653.0 231.4L654.2 233.8L656.4 234.1L657.6 232.4L655.4 231.8L653.1 231.4Z" fill="#990000"/>
<path d="M427.0 120.2L431.9 121.8L436.0 120.6L436.0 120.3L431.9 119.1L427.1 119.9Z" fill="#fdbb84"/>
<path d="M559.4 250.0L563.5 250.6L566.5 250.0L569.4 249.4L572.9 246.7L576.5 245.5L580.0 247.2L582.4 250.0L581.2 252.4L577.6 254.7L575.3 257.1L572.9 260.6L571.2 262.9L570.0 263.5L568.2 261.8L566.5 262.9L564.1 262.4L562.4 260.6L561.2 257.6L560.2 254.7Z" fill="#fdd49e" class="nb"/>
<path d="M560.3 251.5L560.3 254.7L560.9 257.7L562.1 260.8L564.0 262.6L566.5 263.3L568.2 262.2L570.0 264.0L571.5 262.5L570.9 259.3L569.7 257.0L570.3 254.1L569.0 251.5L566.5 250.3L563.5 250.9Z" fill="#fdd49e"/>
<path d="M524.1 230.6L526.5 228.8L529.4 229.4L531.8 231.8L529.4 235.3L527.1 237.6L525.3 235.3Z" fill="#fdd49e" class="nb"/>
<path d="M540.6 241.8L542.9 240.8L547.1 242.4L551.8 244.7L556.5 246.7L560.0 247.9L559.8 250.6L556.5 250.6L551.8 249.4L547.1 247.4L542.9 245.3L540.9 243.5L540.6 241.8" class="b"/>
<path d="M517.6 258.2L519.4 261.2L522.4 264.1L525.3 265.9L528.2 266.7L529.4 271.2L531.2 275.9L532.4 280.6L536.5 280.6L534.1 271.2L531.8 265.3L527.1 260.6L522.4 255.9Z" fill="#fdd49e" class="nb"/>
<path d="M561.2 261.8L558.8 265.3L555.3 268.8L551.8 272.4L548.8 275.9L546.5 280.6L542.4 280.6L547.1 273.5L552.9 265.3L558.8 259.4Z" fill="#fdd49e" class="nb"/>
<path d="M159.5 137.9L162.9 141.3L168.0 142.3L173.1 141.3L177.2 139.2L178.4 135.9L175.1 133.3L170.0 132.7L164.9 134.7Z" fill="#d7301f"/>
<path d="M168.6 142.8L169.8 145.8L173.9 147.3L180.0 147.9L192.0 146.7L197.2 145.9L199.4 143.0L196.2 139.8L192.1 137.7L186.0 137.3L179.9 138.7L173.9 140.7Z" fill="#d7301f"/>
</g>
</g>
<g id="legend">
<text x="210" y="530" text-anchor="middle" class="lg" textLength="46.5" lengthAdjust="spacingAndGlyphs">No data</text>
<line x1="210" y1="534" x2="210" y2="537.5" stroke="#c9c9c9" stroke-width="0.7"/>
<rect x="186.5" y="537.5" width="47.5" height="11" fill="url(#hatch)" stroke="#c9c9c9" stroke-width="0.7"/>
<rect x="254.0" y="537.5" width="58.55" height="11" fill="#fef0d9"/>
<rect x="312.6" y="537.5" width="58.55" height="11" fill="#fdd49e"/>
<rect x="371.1" y="537.5" width="58.55" height="11" fill="#fdbb84"/>
<rect x="429.6" y="537.5" width="58.55" height="11" fill="#fc8d59"/>
<rect x="488.2" y="537.5" width="58.55" height="11" fill="#ef6548"/>
<rect x="546.8" y="537.5" width="58.55" height="11" fill="#d7301f"/>
<path d="M605.3 537.5H659.3L663.8 543.0L659.3 548.5H605.3Z" fill="#990000"/>
<path d="M254.0 537.5H605.3M254.0 548.5H605.3M254.0 537.5V548.5" fill="none" stroke="#c9c9c9" stroke-width="0.6"/>
<line x1="254.0" y1="534" x2="254.0" y2="548.5" stroke="#777" stroke-opacity="0.7" stroke-width="0.6"/>
<text x="254.0" y="530" text-anchor="middle" class="lg">0</text>
<line x1="312.6" y1="534" x2="312.6" y2="548.5" stroke="#777" stroke-opacity="0.7" stroke-width="0.6"/>
<text x="312.6" y="530" text-anchor="middle" class="lg">50</text>
<line x1="371.1" y1="534" x2="371.1" y2="548.5" stroke="#777" stroke-opacity="0.7" stroke-width="0.6"/>
<text x="371.1" y="530" text-anchor="middle" class="lg">100</text>
<line x1="429.6" y1="534" x2="429.6" y2="548.5" stroke="#777" stroke-opacity="0.7" stroke-width="0.6"/>
<text x="429.6" y="530" text-anchor="middle" class="lg">150</text>
<line x1="488.2" y1="534" x2="488.2" y2="548.5" stroke="#777" stroke-opacity="0.7" stroke-width="0.6"/>
<text x="488.2" y="530" text-anchor="middle" class="lg">200</text>
<line x1="546.8" y1="534" x2="546.8" y2="548.5" stroke="#777" stroke-opacity="0.7" stroke-width="0.6"/>
<text x="546.8" y="530" text-anchor="middle" class="lg">250</text>
<line x1="605.3" y1="534" x2="605.3" y2="548.5" stroke="#777" stroke-opacity="0.7" stroke-width="0.6"/>
<text x="605.3" y="530" text-anchor="middle" class="lg">300</text>
</g>
<g id="footer">
<text x="16" y="580.4" class="ft ftb" textLength="73" lengthAdjust="spacingAndGlyphs">Data source:</text>
<text x="92.3" y="580.4" class="ft" textLength="224" lengthAdjust="spacingAndGlyphs">IHME, Global Burden of Disease (2025)</text>
<text x="570.3" y="580.4" class="ft" textLength="261.2" lengthAdjust="spacingAndGlyphs">OurWorldinData.org/causes-of-death | CC BY</text>
</g>
</svg>
</body>
</html>
